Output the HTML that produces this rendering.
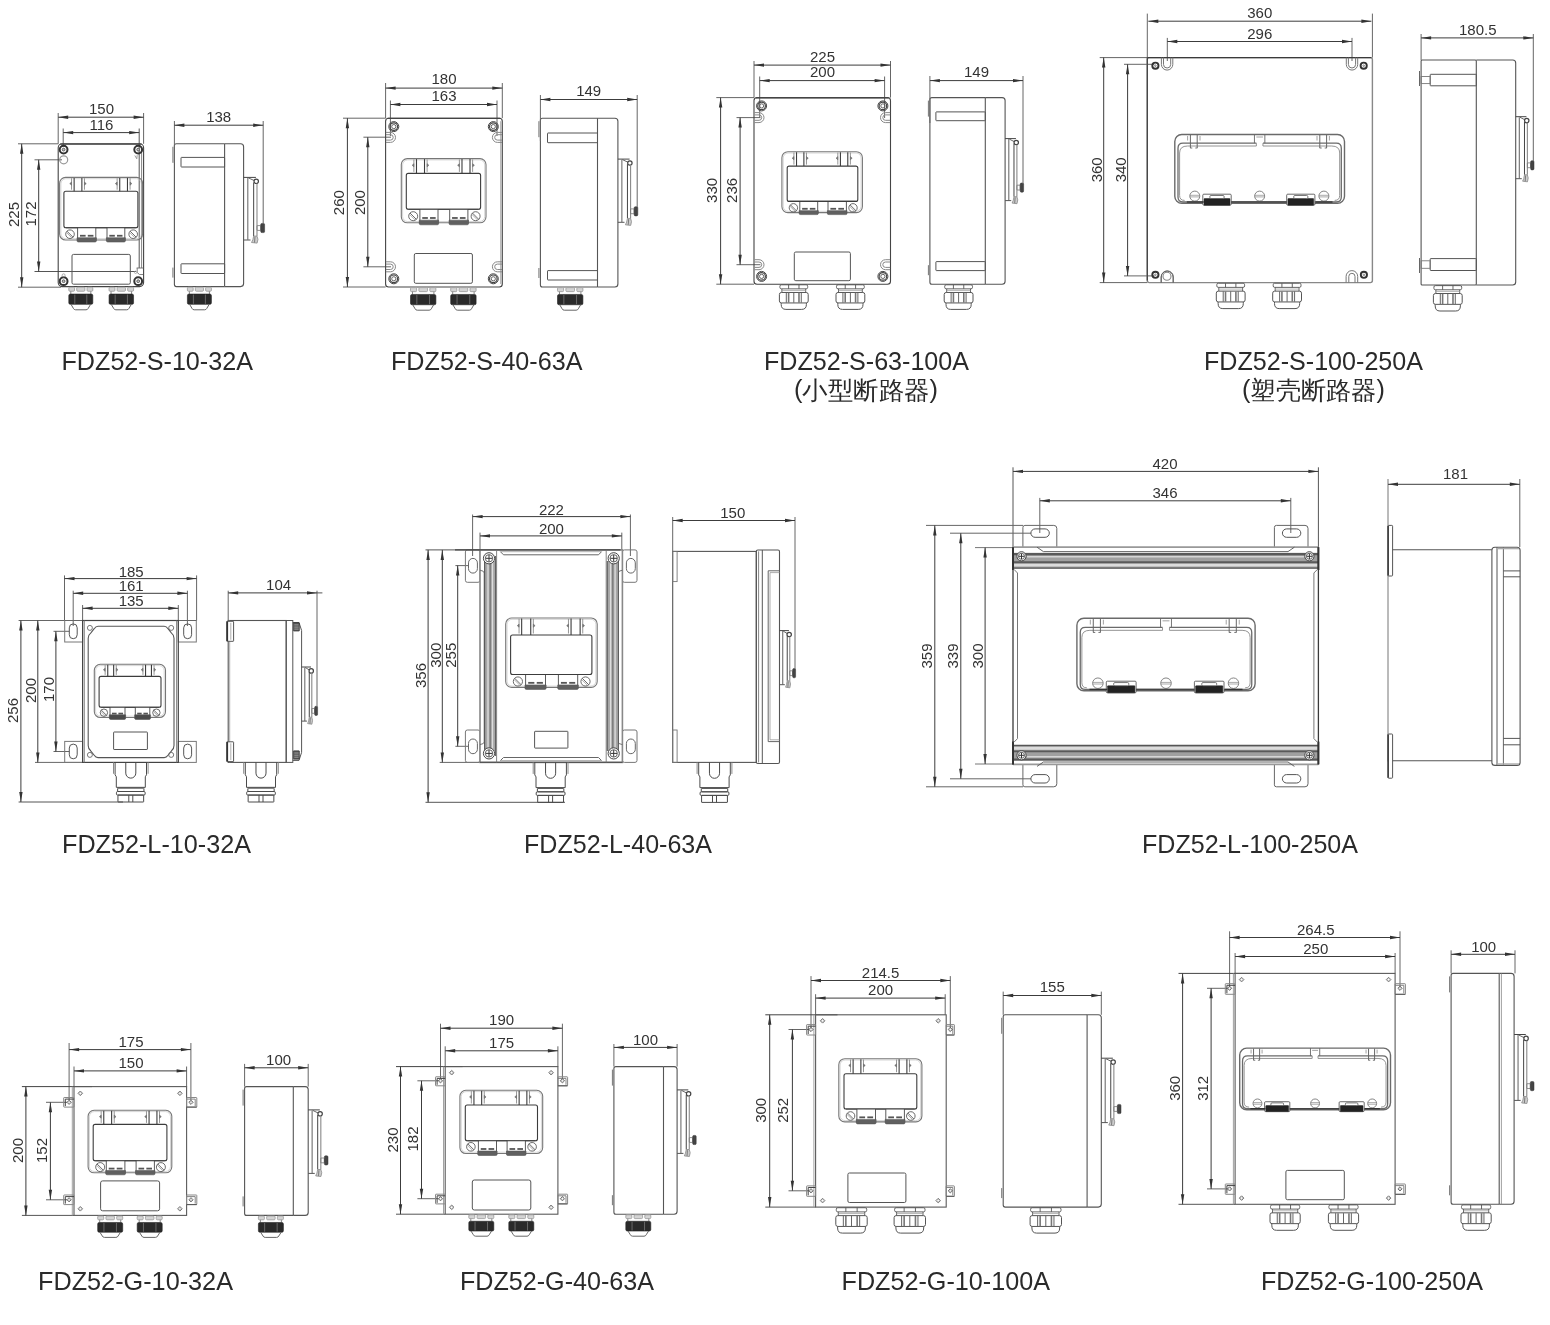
<!DOCTYPE html><html><head><meta charset="utf-8"><title>FDZ52 dimensions</title><style>html,body{margin:0;padding:0;background:#fff}svg{display:block}svg{will-change:transform;opacity:0.999}text{font-family:"Liberation Sans",sans-serif}</style></head><body><svg width="1550" height="1325" viewBox="0 0 1550 1325" fill="none"><rect width="1550" height="1325" fill="#fff"/>
<path d="M58.2 113L58.2 143.8" stroke="#666" stroke-width="1.0" />
<path d="M143.6 113L143.6 143.8" stroke="#666" stroke-width="1.0" />
<path d="M58.2 117.2L143.6 117.2" stroke="#3c3c3c" stroke-width="1.0" />
<path d="M58.2 117.2L68.2 115.5L68.2 118.9Z" fill="#333" stroke="none"/>
<path d="M143.6 117.2L133.6 118.9L133.6 115.5Z" fill="#333" stroke="none"/>
<text x="101.5" y="113.6" font-size="15" text-anchor="middle" fill="#333">150</text>
<path d="M63.2 128.5L63.2 147" stroke="#666" stroke-width="1.0" />
<path d="M139.2 128.5L139.2 268" stroke="#555" stroke-width="1.0" />
<path d="M63.2 132.6L139.2 132.6" stroke="#3c3c3c" stroke-width="1.0" />
<path d="M63.2 132.6L73.2 130.9L73.2 134.3Z" fill="#333" stroke="none"/>
<path d="M139.2 132.6L129.2 134.3L129.2 130.9Z" fill="#333" stroke="none"/>
<text x="101.5" y="129.6" font-size="15" text-anchor="middle" fill="#333">116</text>
<path d="M18 143.8L58.2 143.8" stroke="#666" stroke-width="1.0" />
<path d="M18 287.2L61.2 287.2" stroke="#666" stroke-width="1.0" />
<path d="M21.7 143.8L21.7 287.2" stroke="#3c3c3c" stroke-width="1.0" />
<path d="M21.7 143.8L23.4 153.8L20 153.8Z" fill="#333" stroke="none"/>
<path d="M21.7 287.2L20 277.2L23.4 277.2Z" fill="#333" stroke="none"/>
<text x="19.2" y="214.5" font-size="15" text-anchor="middle" fill="#333" transform="rotate(-90 19.2 214.5)">225</text>
<path d="M34.5 159.8L62 159.8" stroke="#666" stroke-width="1.0" />
<path d="M34.5 271.5L136 271.5" stroke="#555" stroke-width="1.0" />
<path d="M38.7 159.8L38.7 271.5" stroke="#3c3c3c" stroke-width="1.0" />
<path d="M38.7 159.8L40.4 169.8L37 169.8Z" fill="#333" stroke="none"/>
<path d="M38.7 271.5L37 261.5L40.4 261.5Z" fill="#333" stroke="none"/>
<text x="36.2" y="214" font-size="15" text-anchor="middle" fill="#333" transform="rotate(-90 36.2 214)">172</text>
<rect x="58.2" y="143.8" width="85.4" height="142.8" rx="4" stroke="#444" stroke-width="1.1" fill="none"/>
<path d="M60.2 144.1L141.6 144.1" stroke="#444" stroke-width="1.3" />
<path d="M141.6 150L141.6 268" stroke="#777" stroke-width="0.9" />
<circle cx="63.6" cy="149.6" r="3.9" stroke="#333" stroke-width="2.0" fill="none"/>
<circle cx="63.6" cy="149.6" r="1.4" stroke="#555" stroke-width="0.9" fill="#bbb"/>
<circle cx="138.2" cy="149.6" r="3.9" stroke="#333" stroke-width="2.0" fill="none"/>
<circle cx="138.2" cy="149.6" r="1.4" stroke="#555" stroke-width="0.9" fill="#bbb"/>
<circle cx="63.6" cy="281.2" r="3.9" stroke="#333" stroke-width="2.0" fill="none"/>
<circle cx="63.6" cy="281.2" r="1.4" stroke="#555" stroke-width="0.9" fill="#bbb"/>
<circle cx="138.2" cy="281.2" r="3.9" stroke="#333" stroke-width="2.0" fill="none"/>
<circle cx="138.2" cy="281.2" r="1.4" stroke="#555" stroke-width="0.9" fill="#bbb"/>
<circle cx="63.7" cy="159.8" r="4" stroke="#999" stroke-width="1.2" fill="none"/>
<path d="M134.8 155.5L136.8 158.8L137.2 155.2" stroke="#888" stroke-width="0.8" fill="none" stroke-linejoin="round" />
<circle cx="63.6" cy="275.3" r="1.5" stroke="#999" stroke-width="0.8" fill="none"/>
<path d="M136.6 268L143.3 268" stroke="#666" stroke-width="0.9" fill="none" stroke-linejoin="round" />
<path d="M137.2 268L137.2 272.5L139.5 274.5L143 274.5" stroke="#777" stroke-width="0.9" fill="none" stroke-linejoin="round" />
<circle cx="135.6" cy="272.3" r="1.2" stroke="#999" stroke-width="0.7" fill="none"/>
<rect x="59.6" y="177.4" width="83" height="62.6" rx="6" stroke="#777" stroke-width="1.1" fill="none"/>
<rect x="60.9" y="178.7" width="80.4" height="60" rx="5" stroke="#bbb" stroke-width="0.6" fill="none"/>
<rect x="63.9" y="191.2" width="74" height="36.6" rx="2" stroke="#3c3c3c" stroke-width="1.1" fill="none"/>
<path d="M71.53 178.2L71.53 189.7" stroke="#8a8a8a" stroke-width="0.9" />
<path d="M74.13 177.9L74.13 191.2" stroke="#3c3c3c" stroke-width="1.1" />
<path d="M71.53 182.01L69.73 183.61L71.53 185.21Z" stroke="#666" stroke-width="0.5" fill="#777" />
<path d="M84.47 178.2L84.47 189.7" stroke="#8a8a8a" stroke-width="0.9" />
<path d="M81.87 177.9L81.87 191.2" stroke="#3c3c3c" stroke-width="1.1" />
<path d="M84.47 182.01L86.27 183.61L84.47 185.21Z" stroke="#666" stroke-width="0.5" fill="#777" />
<path d="M117.13 178.2L117.13 189.7" stroke="#8a8a8a" stroke-width="0.9" />
<path d="M119.73 177.9L119.73 191.2" stroke="#3c3c3c" stroke-width="1.1" />
<path d="M117.13 182.01L115.33 183.61L117.13 185.21Z" stroke="#666" stroke-width="0.5" fill="#777" />
<path d="M130.07 178.2L130.07 189.7" stroke="#8a8a8a" stroke-width="0.9" />
<path d="M127.47 177.9L127.47 191.2" stroke="#3c3c3c" stroke-width="1.1" />
<path d="M130.07 182.01L131.87 183.61L130.07 185.21Z" stroke="#666" stroke-width="0.5" fill="#777" />
<circle cx="70" cy="234.2" r="4.3" stroke="#5a5a5a" stroke-width="0.9" fill="none"/>
<path d="M66.96 231.16L73.04 237.24" stroke="#5a5a5a" stroke-width="0.9" />
<path d="M66.28 232.32L71.88 237.92" stroke="#8a8a8a" stroke-width="0.7" />
<circle cx="133.2" cy="234.2" r="4.3" stroke="#5a5a5a" stroke-width="0.9" fill="none"/>
<path d="M130.16 231.16L136.24 237.24" stroke="#5a5a5a" stroke-width="0.9" />
<path d="M129.48 232.32L135.08 237.92" stroke="#8a8a8a" stroke-width="0.7" />
<rect x="77.6" y="227.8" width="18.2" height="14.2" rx="0" stroke="none" stroke-width="0" fill="#fff"/>
<path d="M77.6 227.8L77.6 241" stroke="#5a5a5a" stroke-width="1.0" />
<path d="M95.8 227.8L95.8 241" stroke="#5a5a5a" stroke-width="1.0" />
<path d="M77 237.74L96.4 237.74L96.4 240.8Q96.4 242 95 242L78.4 242Q77 242 77 240.8Z" stroke="#555" stroke-width="0.6" fill="#606060" />
<path d="M79.97 235.75L85.61 235.75" stroke="#555" stroke-width="1.8" />
<path d="M87.79 235.75L93.43 235.75" stroke="#555" stroke-width="1.8" />
<rect x="107" y="227.8" width="17.8" height="14.2" rx="0" stroke="none" stroke-width="0" fill="#fff"/>
<path d="M107 227.8L107 241" stroke="#5a5a5a" stroke-width="1.0" />
<path d="M124.8 227.8L124.8 241" stroke="#5a5a5a" stroke-width="1.0" />
<path d="M106.4 237.74L125.4 237.74L125.4 240.8Q125.4 242 124 242L107.8 242Q106.4 242 106.4 240.8Z" stroke="#555" stroke-width="0.6" fill="#606060" />
<path d="M109.31 235.75L114.83 235.75" stroke="#555" stroke-width="1.8" />
<path d="M116.97 235.75L122.49 235.75" stroke="#555" stroke-width="1.8" />
<path d="M65.9 227.8L135.9 227.8" stroke="#3c3c3c" stroke-width="1.1" />
<rect x="72" y="254.4" width="58.3" height="29.8" rx="1.5" stroke="#555" stroke-width="1.0" fill="none"/>
<rect x="68.8" y="287.21" width="5.76" height="4.03" rx="1" stroke="#999" stroke-width="0.8" fill="#d4d4d4"/>
<rect x="76.72" y="287.21" width="8.16" height="4.03" rx="1" stroke="#999" stroke-width="0.8" fill="#d4d4d4"/>
<rect x="87.04" y="287.21" width="5.76" height="4.03" rx="1" stroke="#999" stroke-width="0.8" fill="#d4d4d4"/>
<path d="M70.8 291.24L70.8 294.06" stroke="#8a8a8a" stroke-width="1.0" />
<path d="M90.8 291.24L90.8 294.06" stroke="#8a8a8a" stroke-width="1.0" />
<rect x="68.8" y="294.06" width="24" height="10.29" rx="1.5" stroke="#222" stroke-width="0.6" fill="#2a2a2a"/>
<path d="M74.8 294.56L74.8 303.85" stroke="#777" stroke-width="0.8" />
<path d="M86.8 294.56L86.8 303.85" stroke="#777" stroke-width="0.8" />
<path d="M71 304.35L73.4 308.4Q74 309.8 75.6 309.8L86 309.8Q87.6 309.8 88.2 308.4L90.6 304.35" stroke="#666" stroke-width="1" fill="none" />
<rect x="109.05" y="287.21" width="5.88" height="4.03" rx="1" stroke="#999" stroke-width="0.8" fill="#d4d4d4"/>
<rect x="117.13" y="287.21" width="8.33" height="4.03" rx="1" stroke="#999" stroke-width="0.8" fill="#d4d4d4"/>
<rect x="127.67" y="287.21" width="5.88" height="4.03" rx="1" stroke="#999" stroke-width="0.8" fill="#d4d4d4"/>
<path d="M111.05 291.24L111.05 294.06" stroke="#8a8a8a" stroke-width="1.0" />
<path d="M131.55 291.24L131.55 294.06" stroke="#8a8a8a" stroke-width="1.0" />
<rect x="109.05" y="294.06" width="24.5" height="10.29" rx="1.5" stroke="#222" stroke-width="0.6" fill="#2a2a2a"/>
<path d="M115.17 294.56L115.17 303.85" stroke="#777" stroke-width="0.8" />
<path d="M127.42 294.56L127.42 303.85" stroke="#777" stroke-width="0.8" />
<path d="M111.25 304.35L113.65 308.4Q114.25 309.8 115.85 309.8L126.75 309.8Q128.35 309.8 128.95 308.4L131.35 304.35" stroke="#666" stroke-width="1" fill="none" />
<path d="M224.6 143.8L176.4 143.8Q174.4 143.8 174.4 145.8L174.4 284.6Q174.4 286.6 176.4 286.6L224.6 286.6" stroke="#555" stroke-width="1.1" fill="none" />
<path d="M224.6 143.8L224.6 286.6" stroke="#555" stroke-width="1.1" />
<path d="M224.6 143.8L240.6 143.8Q243.6 143.8 243.6 146.8L243.6 283.6Q243.6 286.6 240.6 286.6L224.6 286.6" stroke="#555" stroke-width="1.1" fill="none" />
<rect x="181" y="157.4" width="43.6" height="9.6" rx="0.5" stroke="#555" stroke-width="1.0" fill="none"/>
<rect x="181" y="263.8" width="43.6" height="9.7" rx="0.5" stroke="#555" stroke-width="1.0" fill="none"/>
<path d="M172.9 146.8L172.9 162.8" stroke="#666" stroke-width="0.9" />
<path d="M172.9 267.6L172.9 277.6" stroke="#666" stroke-width="0.9" />
<path d="M243.6 177.4L255.92 177.4" stroke="#444" stroke-width="1.0" />
<path d="M247.78 177.9L247.78 239.8" stroke="#7a7a7a" stroke-width="1.2" />
<path d="M243.6 240L250.56 240" stroke="#555" stroke-width="1.0" />
<path d="M248.42 177.9L254.1 180.5" stroke="#555" stroke-width="0.9" />
<circle cx="256.24" cy="181.3" r="2.2" stroke="#444" stroke-width="1.2" fill="none"/>
<path d="M253.67 182.5L253.67 236.1" stroke="#444" stroke-width="1.0" />
<path d="M256.99 183.5L256.99 236.1" stroke="#888" stroke-width="1.1" />
<path d="M253.67 236.1L252.81 239.8L251.53 242.5L257.1 243.1L257.96 239.3L256.99 236.1Z" stroke="#888" stroke-width="0.8" fill="#ccc" stroke-linejoin="round" />
<path d="M254.96 236.8L254.53 242.5" stroke="#666" stroke-width="0.8" />
<rect x="256.99" y="225.6" width="3.75" height="4.8" rx="0.3" stroke="#777" stroke-width="0.8" fill="none"/>
<rect x="260.74" y="223.4" width="3.86" height="9.2" rx="1.2" stroke="#333" stroke-width="0.5" fill="#444"/>
<path d="M174.4 121L174.4 163" stroke="#666" stroke-width="1.0" />
<path d="M263.2 121L263.2 224" stroke="#666" stroke-width="1.0" />
<path d="M174.4 125.2L263.2 125.2" stroke="#3c3c3c" stroke-width="1.0" />
<path d="M174.4 125.2L184.4 123.5L184.4 126.9Z" fill="#333" stroke="none"/>
<path d="M263.2 125.2L253.2 126.9L253.2 123.5Z" fill="#333" stroke="none"/>
<text x="218.7" y="121.5" font-size="15" text-anchor="middle" fill="#333">138</text>
<rect x="187.4" y="287.21" width="5.76" height="4.03" rx="1" stroke="#999" stroke-width="0.8" fill="#d4d4d4"/>
<rect x="195.32" y="287.21" width="8.16" height="4.03" rx="1" stroke="#999" stroke-width="0.8" fill="#d4d4d4"/>
<rect x="205.64" y="287.21" width="5.76" height="4.03" rx="1" stroke="#999" stroke-width="0.8" fill="#d4d4d4"/>
<path d="M189.4 291.24L189.4 294.06" stroke="#8a8a8a" stroke-width="1.0" />
<path d="M209.4 291.24L209.4 294.06" stroke="#8a8a8a" stroke-width="1.0" />
<rect x="187.4" y="294.06" width="24" height="10.29" rx="1.5" stroke="#222" stroke-width="0.6" fill="#2a2a2a"/>
<path d="M193.4 294.56L193.4 303.85" stroke="#777" stroke-width="0.8" />
<path d="M205.4 294.56L205.4 303.85" stroke="#777" stroke-width="0.8" />
<path d="M189.6 304.35L192 308.4Q192.6 309.8 194.2 309.8L204.6 309.8Q206.2 309.8 206.8 308.4L209.2 304.35" stroke="#666" stroke-width="1" fill="none" />
<text x="61.5" y="370" font-size="25" text-anchor="start" fill="#2a2a2a" textLength="191.5" lengthAdjust="spacingAndGlyphs">FDZ52-S-10-32A</text>
<path d="M385.6 83L385.6 118.2" stroke="#666" stroke-width="1.0" />
<path d="M502.3 83L502.3 118.2" stroke="#666" stroke-width="1.0" />
<path d="M385.6 88.1L502.3 88.1" stroke="#3c3c3c" stroke-width="1.0" />
<path d="M385.6 88.1L395.6 86.4L395.6 89.8Z" fill="#333" stroke="none"/>
<path d="M502.3 88.1L492.3 89.8L492.3 86.4Z" fill="#333" stroke="none"/>
<text x="444" y="84.4" font-size="15" text-anchor="middle" fill="#333">180</text>
<path d="M390.4 100.5L390.4 136" stroke="#666" stroke-width="1.0" />
<path d="M497 100.5L497 136" stroke="#666" stroke-width="1.0" />
<path d="M390.4 104.5L497 104.5" stroke="#3c3c3c" stroke-width="1.0" />
<path d="M390.4 104.5L400.4 102.8L400.4 106.2Z" fill="#333" stroke="none"/>
<path d="M497 104.5L487 106.2L487 102.8Z" fill="#333" stroke="none"/>
<text x="444" y="101.3" font-size="15" text-anchor="middle" fill="#333">163</text>
<path d="M343 118.2L385.6 118.2" stroke="#666" stroke-width="1.0" />
<path d="M343 287L385.6 287" stroke="#666" stroke-width="1.0" />
<path d="M347.4 118.2L347.4 287" stroke="#3c3c3c" stroke-width="1.0" />
<path d="M347.4 118.2L349.1 128.2L345.7 128.2Z" fill="#333" stroke="none"/>
<path d="M347.4 287L345.7 277L349.1 277Z" fill="#333" stroke="none"/>
<text x="344.2" y="202.6" font-size="15" text-anchor="middle" fill="#333" transform="rotate(-90 344.2 202.6)">260</text>
<path d="M363.4 137.2L391 137.2" stroke="#666" stroke-width="1.0" />
<path d="M363.4 266.8L391 266.8" stroke="#666" stroke-width="1.0" />
<path d="M367.8 137.2L367.8 266.8" stroke="#3c3c3c" stroke-width="1.0" />
<path d="M367.8 137.2L369.5 147.2L366.1 147.2Z" fill="#333" stroke="none"/>
<path d="M367.8 266.8L366.1 256.8L369.5 256.8Z" fill="#333" stroke="none"/>
<text x="365.1" y="202.6" font-size="15" text-anchor="middle" fill="#333" transform="rotate(-90 365.1 202.6)">200</text>
<rect x="385.6" y="118.2" width="116.7" height="168.8" rx="3" stroke="#444" stroke-width="1.1" fill="none"/>
<path d="M387.6 118.4L500.3 118.4" stroke="#444" stroke-width="1.3" />
<path d="M500.8 121.2L500.8 284" stroke="#888" stroke-width="0.8" />
<circle cx="393.8" cy="126.6" r="5" stroke="#444" stroke-width="1.0" fill="none"/>
<circle cx="393.8" cy="126.6" r="3.8" stroke="#444" stroke-width="1.2" fill="none"/>
<circle cx="393.8" cy="126.6" r="2.1" stroke="#555" stroke-width="0.9" fill="none"/>
<circle cx="493.3" cy="126.6" r="5" stroke="#444" stroke-width="1.0" fill="none"/>
<circle cx="493.3" cy="126.6" r="3.8" stroke="#444" stroke-width="1.2" fill="none"/>
<circle cx="493.3" cy="126.6" r="2.1" stroke="#555" stroke-width="0.9" fill="none"/>
<circle cx="393.8" cy="278.8" r="5" stroke="#444" stroke-width="1.0" fill="none"/>
<circle cx="393.8" cy="278.8" r="3.8" stroke="#444" stroke-width="1.2" fill="none"/>
<circle cx="393.8" cy="278.8" r="2.1" stroke="#555" stroke-width="0.9" fill="none"/>
<circle cx="493.3" cy="278.8" r="5" stroke="#444" stroke-width="1.0" fill="none"/>
<circle cx="493.3" cy="278.8" r="3.8" stroke="#444" stroke-width="1.2" fill="none"/>
<circle cx="493.3" cy="278.8" r="2.1" stroke="#555" stroke-width="0.9" fill="none"/>
<path d="M385.9 132.4L390.5 132.4A5 5 0 0 1 390.5 142.4L385.9 142.4" stroke="#888" stroke-width="1.0" fill="none" />
<path d="M385.9 134.7L390.5 134.7A2.7 2.7 0 0 1 390.5 140.1L385.9 140.1" stroke="#888" stroke-width="1.0" fill="none" />
<path d="M502 132.4L497.4 132.4A5 5 0 0 0 497.4 142.4L502 142.4" stroke="#888" stroke-width="1.0" fill="none" />
<path d="M502 134.7L497.4 134.7A2.7 2.7 0 0 0 497.4 140.1L502 140.1" stroke="#888" stroke-width="1.0" fill="none" />
<path d="M385.9 261.8L390.5 261.8A5 5 0 0 1 390.5 271.8L385.9 271.8" stroke="#888" stroke-width="1.0" fill="none" />
<path d="M385.9 264.1L390.5 264.1A2.7 2.7 0 0 1 390.5 269.5L385.9 269.5" stroke="#888" stroke-width="1.0" fill="none" />
<path d="M502 261.8L497.4 261.8A5 5 0 0 0 497.4 271.8L502 271.8" stroke="#888" stroke-width="1.0" fill="none" />
<path d="M502 264.1L497.4 264.1A2.7 2.7 0 0 0 497.4 269.5L502 269.5" stroke="#888" stroke-width="1.0" fill="none" />
<rect x="401.3" y="158.6" width="84.7" height="64.2" rx="6" stroke="#777" stroke-width="1.1" fill="none"/>
<rect x="402.6" y="159.9" width="82.1" height="61.6" rx="5" stroke="#bbb" stroke-width="0.6" fill="none"/>
<rect x="406.3" y="173.4" width="74.3" height="35.9" rx="2" stroke="#3c3c3c" stroke-width="1.1" fill="none"/>
<path d="M413.89 159.4L413.89 171.9" stroke="#8a8a8a" stroke-width="0.9" />
<path d="M416.49 159.1L416.49 173.4" stroke="#3c3c3c" stroke-width="1.1" />
<path d="M413.89 163.66L412.09 165.26L413.89 166.86Z" stroke="#666" stroke-width="0.5" fill="#777" />
<path d="M427.11 159.4L427.11 171.9" stroke="#8a8a8a" stroke-width="0.9" />
<path d="M424.51 159.1L424.51 173.4" stroke="#3c3c3c" stroke-width="1.1" />
<path d="M427.11 163.66L428.91 165.26L427.11 166.86Z" stroke="#666" stroke-width="0.5" fill="#777" />
<path d="M459.39 159.4L459.39 171.9" stroke="#8a8a8a" stroke-width="0.9" />
<path d="M461.99 159.1L461.99 173.4" stroke="#3c3c3c" stroke-width="1.1" />
<path d="M459.39 163.66L457.59 165.26L459.39 166.86Z" stroke="#666" stroke-width="0.5" fill="#777" />
<path d="M472.61 159.4L472.61 171.9" stroke="#8a8a8a" stroke-width="0.9" />
<path d="M470.01 159.1L470.01 173.4" stroke="#3c3c3c" stroke-width="1.1" />
<path d="M472.61 163.66L474.41 165.26L472.61 166.86Z" stroke="#666" stroke-width="0.5" fill="#777" />
<circle cx="413.2" cy="216.2" r="4.5" stroke="#5a5a5a" stroke-width="0.9" fill="none"/>
<path d="M410.02 213.02L416.38 219.38" stroke="#5a5a5a" stroke-width="0.9" />
<path d="M409.35 214.19L415.21 220.05" stroke="#8a8a8a" stroke-width="0.7" />
<circle cx="475.6" cy="216.2" r="4.5" stroke="#5a5a5a" stroke-width="0.9" fill="none"/>
<path d="M472.42 213.02L478.78 219.38" stroke="#5a5a5a" stroke-width="0.9" />
<path d="M471.75 214.19L477.61 220.05" stroke="#8a8a8a" stroke-width="0.7" />
<rect x="419.9" y="209.3" width="18.1" height="15.5" rx="0" stroke="none" stroke-width="0" fill="#fff"/>
<path d="M419.9 209.3L419.9 223.8" stroke="#5a5a5a" stroke-width="1.0" />
<path d="M438 209.3L438 223.8" stroke="#5a5a5a" stroke-width="1.0" />
<path d="M419.3 220.15L438.6 220.15L438.6 223.6Q438.6 224.8 437.2 224.8L420.7 224.8Q419.3 224.8 419.3 223.6Z" stroke="#555" stroke-width="0.6" fill="#606060" />
<path d="M422.25 217.98L427.86 217.98" stroke="#555" stroke-width="1.8" />
<path d="M430.04 217.98L435.65 217.98" stroke="#555" stroke-width="1.8" />
<rect x="449.7" y="209.3" width="18.2" height="15.5" rx="0" stroke="none" stroke-width="0" fill="#fff"/>
<path d="M449.7 209.3L449.7 223.8" stroke="#5a5a5a" stroke-width="1.0" />
<path d="M467.9 209.3L467.9 223.8" stroke="#5a5a5a" stroke-width="1.0" />
<path d="M449.1 220.15L468.5 220.15L468.5 223.6Q468.5 224.8 467.1 224.8L450.5 224.8Q449.1 224.8 449.1 223.6Z" stroke="#555" stroke-width="0.6" fill="#606060" />
<path d="M452.07 217.98L457.71 217.98" stroke="#555" stroke-width="1.8" />
<path d="M459.89 217.98L465.53 217.98" stroke="#555" stroke-width="1.8" />
<path d="M408.3 209.3L478.6 209.3" stroke="#3c3c3c" stroke-width="1.1" />
<rect x="414.3" y="253.5" width="58.1" height="29.8" rx="1.5" stroke="#555" stroke-width="1.0" fill="none"/>
<rect x="410.5" y="287.61" width="6.1" height="4.03" rx="1" stroke="#999" stroke-width="0.8" fill="#d4d4d4"/>
<rect x="418.88" y="287.61" width="8.64" height="4.03" rx="1" stroke="#999" stroke-width="0.8" fill="#d4d4d4"/>
<rect x="429.8" y="287.61" width="6.1" height="4.03" rx="1" stroke="#999" stroke-width="0.8" fill="#d4d4d4"/>
<path d="M412.5 291.64L412.5 294.46" stroke="#8a8a8a" stroke-width="1.0" />
<path d="M433.9 291.64L433.9 294.46" stroke="#8a8a8a" stroke-width="1.0" />
<rect x="410.5" y="294.46" width="25.4" height="10.29" rx="1.5" stroke="#222" stroke-width="0.6" fill="#2a2a2a"/>
<path d="M416.85 294.96L416.85 304.25" stroke="#777" stroke-width="0.8" />
<path d="M429.55 294.96L429.55 304.25" stroke="#777" stroke-width="0.8" />
<path d="M412.7 304.75L415.1 308.8Q415.7 310.2 417.3 310.2L429.1 310.2Q430.7 310.2 431.3 308.8L433.7 304.75" stroke="#666" stroke-width="1" fill="none" />
<rect x="450.7" y="287.61" width="6.1" height="4.03" rx="1" stroke="#999" stroke-width="0.8" fill="#d4d4d4"/>
<rect x="459.08" y="287.61" width="8.64" height="4.03" rx="1" stroke="#999" stroke-width="0.8" fill="#d4d4d4"/>
<rect x="470" y="287.61" width="6.1" height="4.03" rx="1" stroke="#999" stroke-width="0.8" fill="#d4d4d4"/>
<path d="M452.7 291.64L452.7 294.46" stroke="#8a8a8a" stroke-width="1.0" />
<path d="M474.1 291.64L474.1 294.46" stroke="#8a8a8a" stroke-width="1.0" />
<rect x="450.7" y="294.46" width="25.4" height="10.29" rx="1.5" stroke="#222" stroke-width="0.6" fill="#2a2a2a"/>
<path d="M457.05 294.96L457.05 304.25" stroke="#777" stroke-width="0.8" />
<path d="M469.75 294.96L469.75 304.25" stroke="#777" stroke-width="0.8" />
<path d="M452.9 304.75L455.3 308.8Q455.9 310.2 457.5 310.2L469.3 310.2Q470.9 310.2 471.5 308.8L473.9 304.75" stroke="#666" stroke-width="1" fill="none" />
<path d="M597.5 118.2L542.4 118.2Q540.4 118.2 540.4 120.2L540.4 285Q540.4 287 542.4 287L597.5 287" stroke="#555" stroke-width="1.1" fill="none" />
<path d="M597.5 118.2L597.5 287" stroke="#555" stroke-width="1.1" />
<path d="M597.5 118.2L614.9 118.2Q617.9 118.2 617.9 121.2L617.9 284Q617.9 287 614.9 287L597.5 287" stroke="#555" stroke-width="1.1" fill="none" />
<rect x="547.5" y="133" width="50" height="9.7" rx="0.5" stroke="#555" stroke-width="1.0" fill="none"/>
<rect x="547.5" y="270.6" width="50" height="9.4" rx="0.5" stroke="#555" stroke-width="1.0" fill="none"/>
<path d="M538.9 121.2L538.9 137.2" stroke="#666" stroke-width="0.9" />
<path d="M538.9 268L538.9 278" stroke="#666" stroke-width="0.9" />
<path d="M617.9 159.1L629.58 159.1" stroke="#444" stroke-width="1.0" />
<path d="M621.86 159.6L621.86 222.1" stroke="#7a7a7a" stroke-width="1.2" />
<path d="M617.9 222.3L624.5 222.3" stroke="#555" stroke-width="1.0" />
<path d="M622.47 159.6L627.85 162.2" stroke="#555" stroke-width="0.9" />
<circle cx="629.88" cy="163" r="2.2" stroke="#444" stroke-width="1.2" fill="none"/>
<path d="M627.44 164.2L627.44 218.4" stroke="#444" stroke-width="1.0" />
<path d="M630.59 165.2L630.59 218.4" stroke="#888" stroke-width="1.1" />
<path d="M627.44 218.4L626.63 222.1L625.41 224.8L630.69 225.4L631.51 221.6L630.59 218.4Z" stroke="#888" stroke-width="0.8" fill="#ccc" stroke-linejoin="round" />
<path d="M628.66 219.1L628.26 224.8" stroke="#666" stroke-width="0.8" />
<rect x="630.59" y="208.9" width="3.55" height="4.8" rx="0.3" stroke="#777" stroke-width="0.8" fill="none"/>
<rect x="634.14" y="206.7" width="3.66" height="9.2" rx="1.2" stroke="#333" stroke-width="0.5" fill="#444"/>
<path d="M540.4 95L540.4 141" stroke="#666" stroke-width="1.0" />
<path d="M637.2 95L637.2 207" stroke="#666" stroke-width="1.0" />
<path d="M540.4 99.5L637.2 99.5" stroke="#3c3c3c" stroke-width="1.0" />
<path d="M540.4 99.5L550.4 97.8L550.4 101.2Z" fill="#333" stroke="none"/>
<path d="M637.2 99.5L627.2 101.2L627.2 97.8Z" fill="#333" stroke="none"/>
<text x="588.7" y="95.8" font-size="15" text-anchor="middle" fill="#333">149</text>
<rect x="557.5" y="287.61" width="6.1" height="4.03" rx="1" stroke="#999" stroke-width="0.8" fill="#d4d4d4"/>
<rect x="565.88" y="287.61" width="8.64" height="4.03" rx="1" stroke="#999" stroke-width="0.8" fill="#d4d4d4"/>
<rect x="576.8" y="287.61" width="6.1" height="4.03" rx="1" stroke="#999" stroke-width="0.8" fill="#d4d4d4"/>
<path d="M559.5 291.64L559.5 294.46" stroke="#8a8a8a" stroke-width="1.0" />
<path d="M580.9 291.64L580.9 294.46" stroke="#8a8a8a" stroke-width="1.0" />
<rect x="557.5" y="294.46" width="25.4" height="10.29" rx="1.5" stroke="#222" stroke-width="0.6" fill="#2a2a2a"/>
<path d="M563.85 294.96L563.85 304.25" stroke="#777" stroke-width="0.8" />
<path d="M576.55 294.96L576.55 304.25" stroke="#777" stroke-width="0.8" />
<path d="M559.7 304.75L562.1 308.8Q562.7 310.2 564.3 310.2L576.1 310.2Q577.7 310.2 578.3 308.8L580.7 304.75" stroke="#666" stroke-width="1" fill="none" />
<text x="391" y="370" font-size="25" text-anchor="start" fill="#2a2a2a" textLength="191.5" lengthAdjust="spacingAndGlyphs">FDZ52-S-40-63A</text>
<path d="M754 61L754 97.6" stroke="#666" stroke-width="1.0" />
<path d="M890.5 61L890.5 97.6" stroke="#666" stroke-width="1.0" />
<path d="M754 65.1L890.5 65.1" stroke="#3c3c3c" stroke-width="1.0" />
<path d="M754 65.1L764 63.4L764 66.8Z" fill="#333" stroke="none"/>
<path d="M890.5 65.1L880.5 66.8L880.5 63.4Z" fill="#333" stroke="none"/>
<text x="822.5" y="61.8" font-size="15" text-anchor="middle" fill="#333">225</text>
<path d="M759.7 76.5L759.7 118" stroke="#666" stroke-width="1.0" />
<path d="M884.6 76.5L884.6 118" stroke="#666" stroke-width="1.0" />
<path d="M759.7 80.6L884.6 80.6" stroke="#3c3c3c" stroke-width="1.0" />
<path d="M759.7 80.6L769.7 78.9L769.7 82.3Z" fill="#333" stroke="none"/>
<path d="M884.6 80.6L874.6 82.3L874.6 78.9Z" fill="#333" stroke="none"/>
<text x="822.5" y="77.4" font-size="15" text-anchor="middle" fill="#333">200</text>
<path d="M716.3 97.6L754 97.6" stroke="#666" stroke-width="1.0" />
<path d="M716.3 284.2L754 284.2" stroke="#666" stroke-width="1.0" />
<path d="M720.6 97.6L720.6 284.2" stroke="#3c3c3c" stroke-width="1.0" />
<path d="M720.6 97.6L722.3 107.6L718.9 107.6Z" fill="#333" stroke="none"/>
<path d="M720.6 284.2L718.9 274.2L722.3 274.2Z" fill="#333" stroke="none"/>
<text x="717.1" y="190.4" font-size="15" text-anchor="middle" fill="#333" transform="rotate(-90 717.1 190.4)">330</text>
<path d="M736.5 117.6L760.4 117.6" stroke="#666" stroke-width="1.0" />
<path d="M736.5 264.7L760.4 264.7" stroke="#666" stroke-width="1.0" />
<path d="M740.1 117.6L740.1 264.7" stroke="#3c3c3c" stroke-width="1.0" />
<path d="M740.1 117.6L741.8 127.6L738.4 127.6Z" fill="#333" stroke="none"/>
<path d="M740.1 264.7L738.4 254.7L741.8 254.7Z" fill="#333" stroke="none"/>
<text x="737.4" y="190.4" font-size="15" text-anchor="middle" fill="#333" transform="rotate(-90 737.4 190.4)">236</text>
<rect x="754" y="97.6" width="136.5" height="186.6" rx="3" stroke="#444" stroke-width="1.1" fill="none"/>
<path d="M756 97.8L888.5 97.8" stroke="#444" stroke-width="1.3" />
<circle cx="761.6" cy="105.9" r="5" stroke="#444" stroke-width="1.0" fill="none"/>
<circle cx="761.6" cy="105.9" r="3.8" stroke="#444" stroke-width="1.2" fill="none"/>
<circle cx="761.6" cy="105.9" r="2.1" stroke="#555" stroke-width="0.9" fill="none"/>
<circle cx="882.9" cy="105.9" r="5" stroke="#444" stroke-width="1.0" fill="none"/>
<circle cx="882.9" cy="105.9" r="3.8" stroke="#444" stroke-width="1.2" fill="none"/>
<circle cx="882.9" cy="105.9" r="2.1" stroke="#555" stroke-width="0.9" fill="none"/>
<circle cx="761.6" cy="276.4" r="5" stroke="#444" stroke-width="1.0" fill="none"/>
<circle cx="761.6" cy="276.4" r="3.8" stroke="#444" stroke-width="1.2" fill="none"/>
<circle cx="761.6" cy="276.4" r="2.1" stroke="#555" stroke-width="0.9" fill="none"/>
<circle cx="882.9" cy="276.4" r="5" stroke="#444" stroke-width="1.0" fill="none"/>
<circle cx="882.9" cy="276.4" r="3.8" stroke="#444" stroke-width="1.2" fill="none"/>
<circle cx="882.9" cy="276.4" r="2.1" stroke="#555" stroke-width="0.9" fill="none"/>
<path d="M754.4 112.6L759 112.6A5 5 0 0 1 759 122.6L754.4 122.6" stroke="#888" stroke-width="1.0" fill="none" />
<path d="M754.4 114.9L759 114.9A2.7 2.7 0 0 1 759 120.3L754.4 120.3" stroke="#888" stroke-width="1.0" fill="none" />
<path d="M890.1 112.6L885.5 112.6A5 5 0 0 0 885.5 122.6L890.1 122.6" stroke="#888" stroke-width="1.0" fill="none" />
<path d="M890.1 114.9L885.5 114.9A2.7 2.7 0 0 0 885.5 120.3L890.1 120.3" stroke="#888" stroke-width="1.0" fill="none" />
<path d="M754.4 259.7L759 259.7A5 5 0 0 1 759 269.7L754.4 269.7" stroke="#888" stroke-width="1.0" fill="none" />
<path d="M754.4 262L759 262A2.7 2.7 0 0 1 759 267.4L754.4 267.4" stroke="#888" stroke-width="1.0" fill="none" />
<path d="M890.1 259.7L885.5 259.7A5 5 0 0 0 885.5 269.7L890.1 269.7" stroke="#888" stroke-width="1.0" fill="none" />
<path d="M890.1 262L885.5 262A2.7 2.7 0 0 0 885.5 267.4L890.1 267.4" stroke="#888" stroke-width="1.0" fill="none" />
<rect x="781.9" y="151.7" width="80.5" height="60.9" rx="6" stroke="#777" stroke-width="1.1" fill="none"/>
<rect x="783.2" y="153" width="77.9" height="58.3" rx="5" stroke="#bbb" stroke-width="0.6" fill="none"/>
<rect x="787.2" y="166.1" width="70.6" height="35.3" rx="2" stroke="#3c3c3c" stroke-width="1.1" fill="none"/>
<path d="M793.92 152.5L793.92 164.6" stroke="#8a8a8a" stroke-width="0.9" />
<path d="M796.52 152.2L796.52 166.1" stroke="#3c3c3c" stroke-width="1.1" />
<path d="M793.92 156.58L792.12 158.18L793.92 159.78Z" stroke="#666" stroke-width="0.5" fill="#777" />
<path d="M806.48 152.5L806.48 164.6" stroke="#8a8a8a" stroke-width="0.9" />
<path d="M803.88 152.2L803.88 166.1" stroke="#3c3c3c" stroke-width="1.1" />
<path d="M806.48 156.58L808.28 158.18L806.48 159.78Z" stroke="#666" stroke-width="0.5" fill="#777" />
<path d="M837.82 152.5L837.82 164.6" stroke="#8a8a8a" stroke-width="0.9" />
<path d="M840.42 152.2L840.42 166.1" stroke="#3c3c3c" stroke-width="1.1" />
<path d="M837.82 156.58L836.02 158.18L837.82 159.78Z" stroke="#666" stroke-width="0.5" fill="#777" />
<path d="M850.38 152.5L850.38 164.6" stroke="#8a8a8a" stroke-width="0.9" />
<path d="M847.78 152.2L847.78 166.1" stroke="#3c3c3c" stroke-width="1.1" />
<path d="M850.38 156.58L852.18 158.18L850.38 159.78Z" stroke="#666" stroke-width="0.5" fill="#777" />
<circle cx="793.4" cy="207.8" r="4.2" stroke="#5a5a5a" stroke-width="0.9" fill="none"/>
<path d="M790.43 204.83L796.37 210.77" stroke="#5a5a5a" stroke-width="0.9" />
<path d="M789.75 205.99L795.21 211.45" stroke="#8a8a8a" stroke-width="0.7" />
<circle cx="853" cy="207.8" r="4.2" stroke="#5a5a5a" stroke-width="0.9" fill="none"/>
<path d="M850.03 204.83L855.97 210.77" stroke="#5a5a5a" stroke-width="0.9" />
<path d="M849.35 205.99L854.81 211.45" stroke="#8a8a8a" stroke-width="0.7" />
<rect x="799.8" y="201.4" width="17.9" height="13.2" rx="0" stroke="none" stroke-width="0" fill="#fff"/>
<path d="M799.8 201.4L799.8 213.6" stroke="#5a5a5a" stroke-width="1.0" />
<path d="M817.7 201.4L817.7 213.6" stroke="#5a5a5a" stroke-width="1.0" />
<path d="M799.2 210.64L818.3 210.64L818.3 213.4Q818.3 214.6 816.9 214.6L800.6 214.6Q799.2 214.6 799.2 213.4Z" stroke="#555" stroke-width="0.6" fill="#606060" />
<path d="M802.13 208.79L807.68 208.79" stroke="#555" stroke-width="1.8" />
<path d="M809.82 208.79L815.37 208.79" stroke="#555" stroke-width="1.8" />
<rect x="828" y="201.4" width="18.4" height="13.2" rx="0" stroke="none" stroke-width="0" fill="#fff"/>
<path d="M828 201.4L828 213.6" stroke="#5a5a5a" stroke-width="1.0" />
<path d="M846.4 201.4L846.4 213.6" stroke="#5a5a5a" stroke-width="1.0" />
<path d="M827.4 210.64L847 210.64L847 213.4Q847 214.6 845.6 214.6L828.8 214.6Q827.4 214.6 827.4 213.4Z" stroke="#555" stroke-width="0.6" fill="#606060" />
<path d="M830.39 208.79L836.1 208.79" stroke="#555" stroke-width="1.8" />
<path d="M838.3 208.79L844.01 208.79" stroke="#555" stroke-width="1.8" />
<path d="M789.2 201.4L855.8 201.4" stroke="#3c3c3c" stroke-width="1.1" />
<rect x="794.3" y="252" width="56.1" height="28.7" rx="1.5" stroke="#555" stroke-width="1.0" fill="none"/>
<rect x="779.9" y="284.8" width="27.8" height="4.03" rx="1.5" stroke="#555" stroke-width="0.9" fill="none"/>
<path d="M788.62 284.8L788.62 288.84" stroke="#555" stroke-width="0.9" />
<path d="M798.98 284.8L798.98 288.84" stroke="#555" stroke-width="0.9" />
<path d="M781.9 288.84L781.9 292.47" stroke="#555" stroke-width="0.9" />
<path d="M805.7 288.84L805.7 292.47" stroke="#555" stroke-width="0.9" />
<path d="M781.9 290.45L805.7 290.45" stroke="#999" stroke-width="0.7" />
<rect x="779.4" y="292.47" width="28.8" height="10.48" rx="2" stroke="#555" stroke-width="1" fill="none"/>
<path d="M786.31 292.77L786.31 302.65" stroke="#555" stroke-width="0.9" />
<path d="M788.62 292.77L788.62 302.65" stroke="#777" stroke-width="1.6" />
<path d="M793.8 292.77L793.8 302.65" stroke="#555" stroke-width="0.9" />
<path d="M798.98 292.77L798.98 302.65" stroke="#777" stroke-width="1.6" />
<path d="M801.29 292.77L801.29 302.65" stroke="#555" stroke-width="0.9" />
<path d="M781.2 302.95L781.2 304.46Q781.2 309.4 785.9 309.4L801.7 309.4Q806.4 309.4 806.4 304.46L806.4 302.95" stroke="#555" stroke-width="1" fill="none" />
<rect x="836.5" y="284.8" width="27.8" height="4.03" rx="1.5" stroke="#555" stroke-width="0.9" fill="none"/>
<path d="M845.22 284.8L845.22 288.84" stroke="#555" stroke-width="0.9" />
<path d="M855.58 284.8L855.58 288.84" stroke="#555" stroke-width="0.9" />
<path d="M838.5 288.84L838.5 292.47" stroke="#555" stroke-width="0.9" />
<path d="M862.3 288.84L862.3 292.47" stroke="#555" stroke-width="0.9" />
<path d="M838.5 290.45L862.3 290.45" stroke="#999" stroke-width="0.7" />
<rect x="836" y="292.47" width="28.8" height="10.48" rx="2" stroke="#555" stroke-width="1" fill="none"/>
<path d="M842.91 292.77L842.91 302.65" stroke="#555" stroke-width="0.9" />
<path d="M845.22 292.77L845.22 302.65" stroke="#777" stroke-width="1.6" />
<path d="M850.4 292.77L850.4 302.65" stroke="#555" stroke-width="0.9" />
<path d="M855.58 292.77L855.58 302.65" stroke="#777" stroke-width="1.6" />
<path d="M857.89 292.77L857.89 302.65" stroke="#555" stroke-width="0.9" />
<path d="M837.8 302.95L837.8 304.46Q837.8 309.4 842.5 309.4L858.3 309.4Q863 309.4 863 304.46L863 302.95" stroke="#555" stroke-width="1" fill="none" />
<path d="M985.3 97.6L931.9 97.6Q929.9 97.6 929.9 99.6L929.9 282.2Q929.9 284.2 931.9 284.2L985.3 284.2" stroke="#555" stroke-width="1.1" fill="none" />
<path d="M985.3 97.6L985.3 284.2" stroke="#555" stroke-width="1.1" />
<path d="M985.3 97.6L1002.1 97.6Q1005.1 97.6 1005.1 100.6L1005.1 281.2Q1005.1 284.2 1002.1 284.2L985.3 284.2" stroke="#555" stroke-width="1.1" fill="none" />
<rect x="935.9" y="111.9" width="49.4" height="8.8" rx="0.5" stroke="#555" stroke-width="1.0" fill="none"/>
<rect x="935.9" y="261.6" width="49.4" height="9" rx="0.5" stroke="#555" stroke-width="1.0" fill="none"/>
<path d="M928.4 100.6L928.4 116.6" stroke="#666" stroke-width="0.9" />
<path d="M928.4 265.2L928.4 275.2" stroke="#666" stroke-width="0.9" />
<path d="M1005.1 138.6L1015.95 138.6" stroke="#444" stroke-width="1.0" />
<path d="M1008.78 139.1L1008.78 200.4" stroke="#7a7a7a" stroke-width="1.2" />
<path d="M1005.1 200.6L1011.24 200.6" stroke="#555" stroke-width="1.0" />
<path d="M1009.35 139.1L1014.35 141.7" stroke="#555" stroke-width="0.9" />
<circle cx="1016.24" cy="142.5" r="2.2" stroke="#444" stroke-width="1.2" fill="none"/>
<path d="M1013.97 143.7L1013.97 196.7" stroke="#444" stroke-width="1.0" />
<path d="M1016.9 144.7L1016.9 196.7" stroke="#888" stroke-width="1.1" />
<path d="M1013.97 196.7L1013.22 200.4L1012.08 203.1L1016.99 203.7L1017.75 199.9L1016.9 196.7Z" stroke="#888" stroke-width="0.8" fill="#ccc" stroke-linejoin="round" />
<path d="M1015.11 197.4L1014.73 203.1" stroke="#666" stroke-width="0.8" />
<rect x="1016.9" y="185.2" width="3.3" height="4.8" rx="0.3" stroke="#777" stroke-width="0.8" fill="none"/>
<rect x="1020.2" y="183" width="3.4" height="9.2" rx="1.2" stroke="#333" stroke-width="0.5" fill="#444"/>
<path d="M929.9 76L929.9 123" stroke="#666" stroke-width="1.0" />
<path d="M1023 76L1023 184" stroke="#666" stroke-width="1.0" />
<path d="M929.9 80.6L1023 80.6" stroke="#3c3c3c" stroke-width="1.0" />
<path d="M929.9 80.6L939.9 78.9L939.9 82.3Z" fill="#333" stroke="none"/>
<path d="M1023 80.6L1013 82.3L1013 78.9Z" fill="#333" stroke="none"/>
<text x="976.5" y="77.2" font-size="15" text-anchor="middle" fill="#333">149</text>
<rect x="944.7" y="284.8" width="27.8" height="4.03" rx="1.5" stroke="#555" stroke-width="0.9" fill="none"/>
<path d="M953.42 284.8L953.42 288.84" stroke="#555" stroke-width="0.9" />
<path d="M963.78 284.8L963.78 288.84" stroke="#555" stroke-width="0.9" />
<path d="M946.7 288.84L946.7 292.47" stroke="#555" stroke-width="0.9" />
<path d="M970.5 288.84L970.5 292.47" stroke="#555" stroke-width="0.9" />
<path d="M946.7 290.45L970.5 290.45" stroke="#999" stroke-width="0.7" />
<rect x="944.2" y="292.47" width="28.8" height="10.48" rx="2" stroke="#555" stroke-width="1" fill="none"/>
<path d="M951.11 292.77L951.11 302.65" stroke="#555" stroke-width="0.9" />
<path d="M953.42 292.77L953.42 302.65" stroke="#777" stroke-width="1.6" />
<path d="M958.6 292.77L958.6 302.65" stroke="#555" stroke-width="0.9" />
<path d="M963.78 292.77L963.78 302.65" stroke="#777" stroke-width="1.6" />
<path d="M966.09 292.77L966.09 302.65" stroke="#555" stroke-width="0.9" />
<path d="M946 302.95L946 304.46Q946 309.4 950.7 309.4L966.5 309.4Q971.2 309.4 971.2 304.46L971.2 302.95" stroke="#555" stroke-width="1" fill="none" />
<text x="764" y="370" font-size="25" text-anchor="start" fill="#2a2a2a" textLength="205" lengthAdjust="spacingAndGlyphs">FDZ52-S-63-100A</text>
<text x="794" y="397.5" font-size="25.41" text-anchor="start" fill="#2a2a2a">(</text>
<text x="802.46" y="399.2" font-size="25.41" text-anchor="start" fill="#2a2a2a" font-family="&quot;Liberation Sans&quot;, &quot;Noto Sans CJK SC&quot;, sans-serif" textLength="127.08" lengthAdjust="spacingAndGlyphs">小型断路器</text>
<text x="929.54" y="397.5" font-size="25.41" text-anchor="start" fill="#2a2a2a">)</text>
<path d="M1147.3 13.6L1147.3 57.6" stroke="#666" stroke-width="1.0" />
<path d="M1372.4 13.6L1372.4 57.6" stroke="#666" stroke-width="1.0" />
<path d="M1148.3 21.2L1371.4 21.2" stroke="#3c3c3c" stroke-width="1.0" />
<path d="M1148.3 21.2L1158.3 19.5L1158.3 22.9Z" fill="#333" stroke="none"/>
<path d="M1371.4 21.2L1361.4 22.9L1361.4 19.5Z" fill="#333" stroke="none"/>
<text x="1259.8" y="18.3" font-size="15" text-anchor="middle" fill="#333">360</text>
<path d="M1167.3 37.9L1167.3 61" stroke="#666" stroke-width="1.0" />
<path d="M1352 37.9L1352 61" stroke="#666" stroke-width="1.0" />
<path d="M1167.3 41.5L1352 41.5" stroke="#3c3c3c" stroke-width="1.0" />
<path d="M1167.3 41.5L1177.3 39.8L1177.3 43.2Z" fill="#333" stroke="none"/>
<path d="M1352 41.5L1342 43.2L1342 39.8Z" fill="#333" stroke="none"/>
<text x="1259.8" y="38.9" font-size="15" text-anchor="middle" fill="#333">296</text>
<path d="M1099.7 57.6L1147.3 57.6" stroke="#666" stroke-width="1.0" />
<path d="M1099.7 282.6L1147.3 282.6" stroke="#666" stroke-width="1.0" />
<path d="M1103.7 57.6L1103.7 282.6" stroke="#3c3c3c" stroke-width="1.0" />
<path d="M1103.7 57.6L1105.4 67.6L1102 67.6Z" fill="#333" stroke="none"/>
<path d="M1103.7 282.6L1102 272.6L1105.4 272.6Z" fill="#333" stroke="none"/>
<text x="1101.9" y="169.8" font-size="15" text-anchor="middle" fill="#333" transform="rotate(-90 1101.9 169.8)">360</text>
<path d="M1124 64.3L1154.3 64.3" stroke="#666" stroke-width="1.0" />
<path d="M1124 275.9L1154.3 275.9" stroke="#666" stroke-width="1.0" />
<path d="M1127.6 64.3L1127.6 275.9" stroke="#3c3c3c" stroke-width="1.0" />
<path d="M1127.6 64.3L1129.3 74.3L1125.9 74.3Z" fill="#333" stroke="none"/>
<path d="M1127.6 275.9L1125.9 265.9L1129.3 265.9Z" fill="#333" stroke="none"/>
<text x="1125.8" y="169.8" font-size="15" text-anchor="middle" fill="#333" transform="rotate(-90 1125.8 169.8)">340</text>
<rect x="1147.3" y="57.6" width="225.1" height="225" rx="2" stroke="#888" stroke-width="1.4" fill="none"/>
<path d="M1147.3 57.6L1371.4 57.6" stroke="#3a3a3a" stroke-width="1.4" />
<path d="M1147.3 57.6L1147.3 280.6" stroke="#444" stroke-width="1.3" />
<circle cx="1155.4" cy="65.7" r="3.1" stroke="#333" stroke-width="1.9" fill="none"/>
<circle cx="1155.4" cy="65.7" r="0.8" stroke="#666" stroke-width="0.8" fill="none"/>
<circle cx="1363.7" cy="65.7" r="3.1" stroke="#333" stroke-width="1.9" fill="none"/>
<circle cx="1363.7" cy="65.7" r="0.8" stroke="#666" stroke-width="0.8" fill="none"/>
<circle cx="1155.4" cy="274.8" r="3.1" stroke="#333" stroke-width="1.9" fill="none"/>
<circle cx="1155.4" cy="274.8" r="0.8" stroke="#666" stroke-width="0.8" fill="none"/>
<circle cx="1363.9" cy="274.8" r="3.1" stroke="#333" stroke-width="1.9" fill="none"/>
<circle cx="1363.9" cy="274.8" r="0.8" stroke="#666" stroke-width="0.8" fill="none"/>
<path d="M1161.4 57.6L1161.4 64.4A5.7 5.7 0 0 0 1172.8 64.4L1172.8 57.6" stroke="#777" stroke-width="1.0" fill="none" />
<path d="M1163.5 57.6L1163.5 64.4A3.6 3.6 0 0 0 1170.7 64.4L1170.7 57.6" stroke="#777" stroke-width="1.0" fill="none" />
<path d="M1346.3 57.6L1346.3 64.4A5.7 5.7 0 0 0 1357.7 64.4L1357.7 57.6" stroke="#777" stroke-width="1.0" fill="none" />
<path d="M1348.4 57.6L1348.4 64.4A3.6 3.6 0 0 0 1355.6 64.4L1355.6 57.6" stroke="#777" stroke-width="1.0" fill="none" />
<path d="M1161.2 282.6L1161.2 277A6 6 0 0 1 1173.2 277L1173.2 282.6" stroke="#666" stroke-width="1.0" fill="none" />
<path d="M1161.2 282.6L1161.2 277A6 6 0 0 1 1173.2 277L1173.2 282.6" stroke="#666" stroke-width="1.0" fill="none" />
<circle cx="1167" cy="276.3" r="4" stroke="#888" stroke-width="1.1" fill="none"/>
<path d="M1346.1 282.6L1346.1 276.4A5.8 5.8 0 0 1 1357.7 276.4L1357.7 282.6" stroke="#777" stroke-width="1.0" fill="none" />
<path d="M1348.8 282.6L1348.8 276.4A3.1 3.1 0 0 1 1355 276.4L1355 282.6" stroke="#777" stroke-width="1.0" fill="none" />
<rect x="1174.8" y="134.5" width="169.7" height="68.7" rx="7" stroke="#6a6a6a" stroke-width="1.4" fill="none"/>
<path d="M1256.35 143.2L1183 143.2Q1178 143.2 1178 148.2L1178 197Q1178 202 1183 202L1336.3 202Q1341.3 202 1341.3 197L1341.3 148.2Q1341.3 143.2 1336.3 143.2L1262.95 143.2" stroke="#6a6a6a" stroke-width="1.3" fill="none" />
<path d="M1256.35 143.2L1256.35 146L1187.6 146Q1179.6 146 1179.6 153L1179.6 195.4Q1179.6 200.4 1184.6 200.4" stroke="#888" stroke-width="0.9" fill="none" />
<path d="M1262.95 143.2L1262.95 146L1331.7 146Q1339.7 146 1339.7 153L1339.7 195.4Q1339.7 200.4 1334.7 200.4" stroke="#888" stroke-width="0.9" fill="none" />
<path d="M1254.45 134.5L1254.45 143.2" stroke="#666" stroke-width="0.9" />
<path d="M1264.85 134.5L1264.85 143.2" stroke="#666" stroke-width="0.9" />
<path d="M1256.35 137L1262.95 137" stroke="#8a8a8a" stroke-width="0.8" />
<path d="M1190.4 135L1190.4 148" stroke="#666" stroke-width="1.0" />
<path d="M1197.2 135L1197.2 148" stroke="#666" stroke-width="1.0" />
<path d="M1187.6 136L1187.6 140.5" stroke="#8a8a8a" stroke-width="0.8" />
<path d="M1200 136L1200 140.5" stroke="#8a8a8a" stroke-width="0.8" />
<path d="M1190.2 148L1192.3 148" stroke="#666" stroke-width="0.9" />
<path d="M1197.4 148L1195.3 148" stroke="#666" stroke-width="0.9" />
<path d="M1319.8 135L1319.8 148" stroke="#666" stroke-width="1.0" />
<path d="M1326.6 135L1326.6 148" stroke="#666" stroke-width="1.0" />
<path d="M1317 136L1317 140.5" stroke="#8a8a8a" stroke-width="0.8" />
<path d="M1329.4 136L1329.4 140.5" stroke="#8a8a8a" stroke-width="0.8" />
<path d="M1319.6 148L1321.7 148" stroke="#666" stroke-width="0.9" />
<path d="M1326.8 148L1324.7 148" stroke="#666" stroke-width="0.9" />
<circle cx="1194.8" cy="196.1" r="5" stroke="#777" stroke-width="0.9" fill="none"/>
<path d="M1189.8 195.3L1199.8 195.3" stroke="#888" stroke-width="0.7" />
<path d="M1189.8 196.9L1199.8 196.9" stroke="#888" stroke-width="0.7" />
<circle cx="1259.65" cy="196.1" r="5" stroke="#777" stroke-width="0.9" fill="none"/>
<path d="M1254.65 195.3L1264.65 195.3" stroke="#888" stroke-width="0.7" />
<path d="M1254.65 196.9L1264.65 196.9" stroke="#888" stroke-width="0.7" />
<circle cx="1323.9" cy="196.1" r="5" stroke="#777" stroke-width="0.9" fill="none"/>
<path d="M1318.9 195.3L1328.9 195.3" stroke="#888" stroke-width="0.7" />
<path d="M1318.9 196.9L1328.9 196.9" stroke="#888" stroke-width="0.7" />
<rect x="1202.8" y="194.2" width="28.4" height="11" rx="1" stroke="#444" stroke-width="0.8" fill="#fff"/>
<rect x="1204" y="198.5" width="26" height="6.7" rx="0.5" stroke="#222" stroke-width="0.5" fill="#222"/>
<rect x="1209.8" y="195.5" width="14.4" height="3" rx="1.2" stroke="#555" stroke-width="0.8" fill="#fff"/>
<rect x="1286.7" y="194.2" width="28.2" height="11" rx="1" stroke="#444" stroke-width="0.8" fill="#fff"/>
<rect x="1287.9" y="198.5" width="25.8" height="6.7" rx="0.5" stroke="#222" stroke-width="0.5" fill="#222"/>
<rect x="1293.7" y="195.5" width="14.2" height="3" rx="1.2" stroke="#555" stroke-width="0.8" fill="#fff"/>
<path d="M1231.2 202L1286.7 202" stroke="#444" stroke-width="1.5" />
<path d="M1186.8 202L1203.8 202" stroke="#333" stroke-width="1.4" />
<path d="M1315.5 202L1332.5 202" stroke="#333" stroke-width="1.4" />
<rect x="1216.8" y="283.22" width="27.8" height="4.16" rx="1.5" stroke="#555" stroke-width="0.9" fill="none"/>
<path d="M1225.52 283.22L1225.52 287.38" stroke="#555" stroke-width="0.9" />
<path d="M1235.88 283.22L1235.88 287.38" stroke="#555" stroke-width="0.9" />
<path d="M1218.8 287.38L1218.8 291.13" stroke="#555" stroke-width="0.9" />
<path d="M1242.6 287.38L1242.6 291.13" stroke="#555" stroke-width="0.9" />
<path d="M1218.8 289.05L1242.6 289.05" stroke="#999" stroke-width="0.7" />
<rect x="1216.3" y="291.13" width="28.8" height="10.82" rx="2" stroke="#555" stroke-width="1" fill="none"/>
<path d="M1223.21 291.43L1223.21 301.64" stroke="#555" stroke-width="0.9" />
<path d="M1225.52 291.43L1225.52 301.64" stroke="#777" stroke-width="1.6" />
<path d="M1230.7 291.43L1230.7 301.64" stroke="#555" stroke-width="0.9" />
<path d="M1235.88 291.43L1235.88 301.64" stroke="#777" stroke-width="1.6" />
<path d="M1238.19 291.43L1238.19 301.64" stroke="#555" stroke-width="0.9" />
<path d="M1218.1 301.94L1218.1 303.5Q1218.1 308.6 1222.8 308.6L1238.6 308.6Q1243.3 308.6 1243.3 303.5L1243.3 301.94" stroke="#555" stroke-width="1" fill="none" />
<rect x="1273.2" y="283.22" width="27.8" height="4.16" rx="1.5" stroke="#555" stroke-width="0.9" fill="none"/>
<path d="M1281.92 283.22L1281.92 287.38" stroke="#555" stroke-width="0.9" />
<path d="M1292.28 283.22L1292.28 287.38" stroke="#555" stroke-width="0.9" />
<path d="M1275.2 287.38L1275.2 291.13" stroke="#555" stroke-width="0.9" />
<path d="M1299 287.38L1299 291.13" stroke="#555" stroke-width="0.9" />
<path d="M1275.2 289.05L1299 289.05" stroke="#999" stroke-width="0.7" />
<rect x="1272.7" y="291.13" width="28.8" height="10.82" rx="2" stroke="#555" stroke-width="1" fill="none"/>
<path d="M1279.61 291.43L1279.61 301.64" stroke="#555" stroke-width="0.9" />
<path d="M1281.92 291.43L1281.92 301.64" stroke="#777" stroke-width="1.6" />
<path d="M1287.1 291.43L1287.1 301.64" stroke="#555" stroke-width="0.9" />
<path d="M1292.28 291.43L1292.28 301.64" stroke="#777" stroke-width="1.6" />
<path d="M1294.59 291.43L1294.59 301.64" stroke="#555" stroke-width="0.9" />
<path d="M1274.5 301.94L1274.5 303.5Q1274.5 308.6 1279.2 308.6L1295 308.6Q1299.7 308.6 1299.7 303.5L1299.7 301.94" stroke="#555" stroke-width="1" fill="none" />
<rect x="1421.1" y="60" width="55.2" height="225" rx="1" stroke="#555" stroke-width="1.1" fill="none"/>
<path d="M1419.5 71L1419.5 86" stroke="#666" stroke-width="1.0" />
<path d="M1419.5 258L1419.5 273" stroke="#666" stroke-width="1.0" />
<path d="M1476.3 60L1512.7 60Q1515.7 60 1515.7 63L1515.7 282Q1515.7 285 1512.7 285L1476.3 285" stroke="#555" stroke-width="1.1" fill="none" />
<rect x="1430.2" y="74.3" width="46.1" height="11.5" rx="0.5" stroke="#555" stroke-width="1.0" fill="none"/>
<rect x="1421.1" y="76.5" width="9.1" height="7.1" rx="0" stroke="#777" stroke-width="0.9" fill="none"/>
<rect x="1430.2" y="258.6" width="46.1" height="11.9" rx="0.5" stroke="#555" stroke-width="1.0" fill="none"/>
<rect x="1421.1" y="260.8" width="9.1" height="7.5" rx="0" stroke="#777" stroke-width="0.9" fill="none"/>
<path d="M1515.7 116.7L1526.44 116.7" stroke="#444" stroke-width="1.0" />
<path d="M1519.34 117.2L1519.34 178.5" stroke="#7a7a7a" stroke-width="1.2" />
<path d="M1515.7 178.7L1521.77 178.7" stroke="#555" stroke-width="1.0" />
<path d="M1519.9 117.2L1524.85 119.8" stroke="#555" stroke-width="0.9" />
<circle cx="1526.72" cy="120.6" r="2.2" stroke="#444" stroke-width="1.2" fill="none"/>
<path d="M1524.48 121.8L1524.48 174.8" stroke="#444" stroke-width="1.0" />
<path d="M1527.37 122.8L1527.37 174.8" stroke="#888" stroke-width="1.1" />
<path d="M1524.48 174.8L1523.73 178.5L1522.61 181.2L1527.46 181.8L1528.21 178L1527.37 174.8Z" stroke="#888" stroke-width="0.8" fill="#ccc" stroke-linejoin="round" />
<path d="M1525.6 175.5L1525.22 181.2" stroke="#666" stroke-width="0.8" />
<rect x="1527.37" y="162.9" width="3.27" height="4.8" rx="0.3" stroke="#777" stroke-width="0.8" fill="none"/>
<rect x="1530.64" y="160.7" width="3.36" height="9.2" rx="1.2" stroke="#333" stroke-width="0.5" fill="#444"/>
<path d="M1421.1 34L1421.1 60" stroke="#666" stroke-width="1.0" />
<path d="M1533.3 34L1533.3 161" stroke="#666" stroke-width="1.0" />
<path d="M1421.1 37.9L1533.3 37.9" stroke="#3c3c3c" stroke-width="1.0" />
<path d="M1421.1 37.9L1431.1 36.2L1431.1 39.6Z" fill="#333" stroke="none"/>
<path d="M1533.3 37.9L1523.3 39.6L1523.3 36.2Z" fill="#333" stroke="none"/>
<text x="1477.8" y="35" font-size="15" text-anchor="middle" fill="#333">180.5</text>
<rect x="1433.9" y="285.62" width="27.8" height="4.16" rx="1.5" stroke="#555" stroke-width="0.9" fill="none"/>
<path d="M1442.62 285.62L1442.62 289.78" stroke="#555" stroke-width="0.9" />
<path d="M1452.98 285.62L1452.98 289.78" stroke="#555" stroke-width="0.9" />
<path d="M1435.9 289.78L1435.9 293.53" stroke="#555" stroke-width="0.9" />
<path d="M1459.7 289.78L1459.7 293.53" stroke="#555" stroke-width="0.9" />
<path d="M1435.9 291.45L1459.7 291.45" stroke="#999" stroke-width="0.7" />
<rect x="1433.4" y="293.53" width="28.8" height="10.82" rx="2" stroke="#555" stroke-width="1" fill="none"/>
<path d="M1440.31 293.83L1440.31 304.04" stroke="#555" stroke-width="0.9" />
<path d="M1442.62 293.83L1442.62 304.04" stroke="#777" stroke-width="1.6" />
<path d="M1447.8 293.83L1447.8 304.04" stroke="#555" stroke-width="0.9" />
<path d="M1452.98 293.83L1452.98 304.04" stroke="#777" stroke-width="1.6" />
<path d="M1455.29 293.83L1455.29 304.04" stroke="#555" stroke-width="0.9" />
<path d="M1435.2 304.34L1435.2 305.9Q1435.2 311 1439.9 311L1455.7 311Q1460.4 311 1460.4 305.9L1460.4 304.34" stroke="#555" stroke-width="1" fill="none" />
<text x="1204" y="370" font-size="25" text-anchor="start" fill="#2a2a2a" textLength="219" lengthAdjust="spacingAndGlyphs">FDZ52-S-100-250A</text>
<text x="1242" y="397.5" font-size="25.24" text-anchor="start" fill="#2a2a2a">(</text>
<text x="1250.4" y="399.2" font-size="25.24" text-anchor="start" fill="#2a2a2a" font-family="&quot;Liberation Sans&quot;, &quot;Noto Sans CJK SC&quot;, sans-serif" textLength="126.2" lengthAdjust="spacingAndGlyphs">塑壳断路器</text>
<text x="1376.6" y="397.5" font-size="25.24" text-anchor="start" fill="#2a2a2a">)</text>
<path d="M64.5 575.4L64.5 620.5" stroke="#666" stroke-width="1.0" />
<path d="M196.6 575.4L196.6 620.5" stroke="#666" stroke-width="1.0" />
<path d="M64.5 578.6L196.6 578.6" stroke="#3c3c3c" stroke-width="1.0" />
<path d="M64.5 578.6L74.5 576.9L74.5 580.3Z" fill="#333" stroke="none"/>
<path d="M196.6 578.6L186.6 580.3L186.6 576.9Z" fill="#333" stroke="none"/>
<text x="131.2" y="576.6" font-size="15" text-anchor="middle" fill="#333">185</text>
<path d="M73.2 590.7L73.2 626" stroke="#666" stroke-width="1.0" />
<path d="M187.4 590.7L187.4 626" stroke="#666" stroke-width="1.0" />
<path d="M73.2 593.3L187.4 593.3" stroke="#3c3c3c" stroke-width="1.0" />
<path d="M73.2 593.3L83.2 591.6L83.2 595Z" fill="#333" stroke="none"/>
<path d="M187.4 593.3L177.4 595L177.4 591.6Z" fill="#333" stroke="none"/>
<text x="131.2" y="591" font-size="15" text-anchor="middle" fill="#333">161</text>
<path d="M82.6 605L82.6 620.5" stroke="#666" stroke-width="1.0" />
<path d="M178.3 605L178.3 620.5" stroke="#666" stroke-width="1.0" />
<path d="M82.6 608.3L178.3 608.3" stroke="#3c3c3c" stroke-width="1.0" />
<path d="M82.6 608.3L92.6 606.6L92.6 610Z" fill="#333" stroke="none"/>
<path d="M178.3 608.3L168.3 610L168.3 606.6Z" fill="#333" stroke="none"/>
<text x="131.2" y="606" font-size="15" text-anchor="middle" fill="#333">135</text>
<path d="M18.6 620.5L64.5 620.5" stroke="#666" stroke-width="1.0" />
<path d="M18.6 802L123 802" stroke="#555" stroke-width="1.0" />
<path d="M20.9 620.5L20.9 802" stroke="#3c3c3c" stroke-width="1.0" />
<path d="M20.9 620.5L22.6 630.5L19.2 630.5Z" fill="#333" stroke="none"/>
<path d="M20.9 802L19.2 792L22.6 792Z" fill="#333" stroke="none"/>
<text x="18.4" y="710.5" font-size="15" text-anchor="middle" fill="#333" transform="rotate(-90 18.4 710.5)">256</text>
<path d="M35 762.4L82.6 762.4" stroke="#666" stroke-width="1.0" />
<path d="M37.8 620.5L37.8 762.4" stroke="#3c3c3c" stroke-width="1.0" />
<path d="M37.8 620.5L39.5 630.5L36.1 630.5Z" fill="#333" stroke="none"/>
<path d="M37.8 762.4L36.1 752.4L39.5 752.4Z" fill="#333" stroke="none"/>
<text x="35.6" y="690.5" font-size="15" text-anchor="middle" fill="#333" transform="rotate(-90 35.6 690.5)">200</text>
<path d="M53.5 631.3L69.3 631.3" stroke="#666" stroke-width="1.0" />
<path d="M53.5 751.5L69.3 751.5" stroke="#666" stroke-width="1.0" />
<path d="M55.9 631.3L55.9 751.5" stroke="#3c3c3c" stroke-width="1.0" />
<path d="M55.9 631.3L57.6 641.3L54.2 641.3Z" fill="#333" stroke="none"/>
<path d="M55.9 751.5L54.2 741.5L57.6 741.5Z" fill="#333" stroke="none"/>
<text x="53.7" y="689.5" font-size="15" text-anchor="middle" fill="#333" transform="rotate(-90 53.7 689.5)">170</text>
<rect x="64.7" y="620.5" width="17.9" height="21.5" rx="0" stroke="#777" stroke-width="1.0" fill="none"/>
<rect x="64.7" y="741.4" width="17.9" height="21" rx="0" stroke="#777" stroke-width="1.0" fill="none"/>
<rect x="178.3" y="620.5" width="18" height="21.5" rx="0" stroke="#777" stroke-width="1.0" fill="none"/>
<rect x="178.3" y="741.4" width="18" height="21" rx="0" stroke="#777" stroke-width="1.0" fill="none"/>
<rect x="69.3" y="623.9" width="7.9" height="14.8" rx="3.95" stroke="#555" stroke-width="1.0" fill="none"/>
<rect x="69.3" y="744.1" width="7.9" height="14.7" rx="3.95" stroke="#555" stroke-width="1.0" fill="none"/>
<rect x="183.7" y="623.9" width="7.9" height="14.8" rx="3.95" stroke="#555" stroke-width="1.0" fill="none"/>
<rect x="183.7" y="744.1" width="7.9" height="14.7" rx="3.95" stroke="#555" stroke-width="1.0" fill="none"/>
<path d="M64.7 620.5L196.3 620.5" stroke="#666" stroke-width="1.0" />
<rect x="82.6" y="620.5" width="95.7" height="141.9" rx="0" stroke="#444" stroke-width="1.2" fill="none"/>
<path d="M84.3 620.5L84.3 762.4" stroke="#777" stroke-width="0.9" />
<path d="M176.6 620.5L176.6 762.4" stroke="#777" stroke-width="0.9" />
<path d="M88.2 691.95L88.2 638.3Q88.2 634.8 90.7 633.1L94.2 628.7Q95.8 626.3 98 626.3L164.2 626.3Q166.4 626.3 168 628.7L171.5 633.1Q174 634.8 174 638.3L174 745.6Q174 749.1 171.5 750.8L168 755.2Q166.4 757.6 164.2 757.6L98 757.6Q95.8 757.6 94.2 755.2L90.7 750.8Q88.2 749.1 88.2 745.6Z" stroke="#555" stroke-width="1.1" fill="none" />
<circle cx="89.9" cy="627.9" r="2.5" stroke="#666" stroke-width="0.9" fill="none"/>
<circle cx="171.2" cy="627.9" r="2.5" stroke="#666" stroke-width="0.9" fill="none"/>
<circle cx="89.9" cy="754.9" r="2.5" stroke="#666" stroke-width="0.9" fill="none"/>
<circle cx="171.2" cy="754.9" r="2.5" stroke="#666" stroke-width="0.9" fill="none"/>
<rect x="94.3" y="664.3" width="71.2" height="53.2" rx="6" stroke="#777" stroke-width="1.1" fill="none"/>
<rect x="95.6" y="665.6" width="68.6" height="50.6" rx="5" stroke="#bbb" stroke-width="0.6" fill="none"/>
<rect x="99.1" y="676.4" width="61.9" height="30.8" rx="2" stroke="#3c3c3c" stroke-width="1.1" fill="none"/>
<path d="M105.15 665.1L105.15 674.9" stroke="#8a8a8a" stroke-width="0.9" />
<path d="M107.75 664.8L107.75 676.4" stroke="#3c3c3c" stroke-width="1.1" />
<path d="M105.15 668.14L103.35 669.75L105.15 671.35Z" stroke="#666" stroke-width="0.5" fill="#777" />
<path d="M116.25 665.1L116.25 674.9" stroke="#8a8a8a" stroke-width="0.9" />
<path d="M113.65 664.8L113.65 676.4" stroke="#3c3c3c" stroke-width="1.1" />
<path d="M116.25 668.14L118.05 669.75L116.25 671.35Z" stroke="#666" stroke-width="0.5" fill="#777" />
<path d="M142.95 665.1L142.95 674.9" stroke="#8a8a8a" stroke-width="0.9" />
<path d="M145.55 664.8L145.55 676.4" stroke="#3c3c3c" stroke-width="1.1" />
<path d="M142.95 668.14L141.15 669.75L142.95 671.35Z" stroke="#666" stroke-width="0.5" fill="#777" />
<path d="M154.05 665.1L154.05 674.9" stroke="#8a8a8a" stroke-width="0.9" />
<path d="M151.45 664.8L151.45 676.4" stroke="#3c3c3c" stroke-width="1.1" />
<path d="M154.05 668.14L155.85 669.75L154.05 671.35Z" stroke="#666" stroke-width="0.5" fill="#777" />
<circle cx="103.9" cy="712.7" r="3.7" stroke="#5a5a5a" stroke-width="0.9" fill="none"/>
<path d="M101.28 710.08L106.52 715.32" stroke="#5a5a5a" stroke-width="0.9" />
<path d="M100.57 711.21L105.39 716.03" stroke="#8a8a8a" stroke-width="0.7" />
<circle cx="156.4" cy="712.7" r="3.7" stroke="#5a5a5a" stroke-width="0.9" fill="none"/>
<path d="M153.78 710.08L159.02 715.32" stroke="#5a5a5a" stroke-width="0.9" />
<path d="M153.07 711.21L157.89 716.03" stroke="#8a8a8a" stroke-width="0.7" />
<rect x="110" y="707.2" width="15" height="12.3" rx="0" stroke="none" stroke-width="0" fill="#fff"/>
<path d="M110 707.2L110 718.5" stroke="#5a5a5a" stroke-width="1.0" />
<path d="M125 707.2L125 718.5" stroke="#5a5a5a" stroke-width="1.0" />
<path d="M109.4 714.83L125.6 714.83L125.6 718.3Q125.6 719.5 124.2 719.5L110.8 719.5Q109.4 719.5 109.4 718.3Z" stroke="#555" stroke-width="0.6" fill="#4a4a4a" />
<path d="M111.95 713.6L116.6 713.6" stroke="#555" stroke-width="1.8" />
<path d="M118.4 713.6L123.05 713.6" stroke="#555" stroke-width="1.8" />
<rect x="135.3" y="707.2" width="14.5" height="12.3" rx="0" stroke="none" stroke-width="0" fill="#fff"/>
<path d="M135.3 707.2L135.3 718.5" stroke="#5a5a5a" stroke-width="1.0" />
<path d="M149.8 707.2L149.8 718.5" stroke="#5a5a5a" stroke-width="1.0" />
<path d="M134.7 714.83L150.4 714.83L150.4 718.3Q150.4 719.5 149 719.5L136.1 719.5Q134.7 719.5 134.7 718.3Z" stroke="#555" stroke-width="0.6" fill="#4a4a4a" />
<path d="M137.19 713.6L141.68 713.6" stroke="#555" stroke-width="1.8" />
<path d="M143.42 713.6L147.92 713.6" stroke="#555" stroke-width="1.8" />
<path d="M101.1 707.2L159 707.2" stroke="#3c3c3c" stroke-width="1.1" />
<rect x="113.6" y="732" width="33.8" height="17.5" rx="0.5" stroke="#555" stroke-width="1.0" fill="none"/>
<path d="M113.5 762.4L113.5 773.77" stroke="#8a8a8a" stroke-width="1.0" />
<path d="M148.1 762.4L148.1 773.77" stroke="#8a8a8a" stroke-width="1.0" />
<path d="M115.1 762.4L115.1 774.77" stroke="#4a4a4a" stroke-width="1.0" />
<path d="M146.5 762.4L146.5 774.77" stroke="#4a4a4a" stroke-width="1.0" />
<path d="M115.1 774.77L116.3 776.77L116.3 787.35" stroke="#4a4a4a" stroke-width="1.0" fill="none" stroke-linejoin="round" />
<path d="M146.5 774.77L145.3 776.77L145.3 787.35" stroke="#4a4a4a" stroke-width="1.0" fill="none" stroke-linejoin="round" />
<path d="M125.78 762.4L125.78 773.12A5.02 5.02 0 0 0 135.82 773.12L135.82 762.4" stroke="#4a4a4a" stroke-width="1.0" fill="none" />
<path d="M116.3 787.35L145.3 787.35" stroke="#4a4a4a" stroke-width="1.0" />
<rect x="117.65" y="788.15" width="26.3" height="3.36" rx="0.5" stroke="#4a4a4a" stroke-width="1.0" fill="none"/>
<rect x="116.45" y="791.51" width="28.7" height="3.56" rx="1.2" stroke="#4a4a4a" stroke-width="1.0" fill="none"/>
<rect x="117.95" y="795.07" width="25.7" height="6.93" rx="0.3" stroke="#4a4a4a" stroke-width="1.0" fill="none"/>
<path d="M128.8 795.07L128.8 802" stroke="#4a4a4a" stroke-width="1.0" />
<path d="M132.8 795.07L132.8 802" stroke="#4a4a4a" stroke-width="1.0" />
<rect x="228.2" y="620.5" width="58" height="141.9" rx="0" stroke="#555" stroke-width="1.1" fill="none"/>
<path d="M229.7 620.5L229.7 762.4" stroke="#999" stroke-width="0.8" />
<rect x="286.2" y="620.5" width="6.6" height="141.9" rx="0" stroke="#555" stroke-width="1.0" fill="none"/>
<path d="M292.8 622.5L299 622.5L301.6 630.5L301.6 752.4L299 760.4L292.8 760.4" stroke="#555" stroke-width="1.0" fill="none" />
<rect x="293.4" y="622.7" width="6" height="8.4" rx="0.5" stroke="#333" stroke-width="0.6" fill="#555"/>
<path d="M294.3 624.9L298.6 624.9" stroke="#bbb" stroke-width="0.7" />
<path d="M294.3 627.1L298.6 627.1" stroke="#bbb" stroke-width="0.7" />
<path d="M294.3 629.1L298.6 629.1" stroke="#bbb" stroke-width="0.7" />
<rect x="293.4" y="750.8" width="6" height="8.4" rx="0.5" stroke="#333" stroke-width="0.6" fill="#555"/>
<path d="M294.3 753L298.6 753" stroke="#bbb" stroke-width="0.7" />
<path d="M294.3 755.2L298.6 755.2" stroke="#bbb" stroke-width="0.7" />
<path d="M294.3 757.2L298.6 757.2" stroke="#bbb" stroke-width="0.7" />
<rect x="227" y="621.3" width="6.6" height="20" rx="0.5" stroke="#555" stroke-width="1.0" fill="#fff"/>
<path d="M227.2 621.3L227.2 641.3" stroke="#333" stroke-width="1.8" />
<path d="M230.8 622.8L230.8 639.8" stroke="#999" stroke-width="0.8" />
<rect x="227" y="741.8" width="6.6" height="19.8" rx="0.5" stroke="#555" stroke-width="1.0" fill="#fff"/>
<path d="M227.2 741.8L227.2 761.6" stroke="#333" stroke-width="1.8" />
<path d="M230.8 743.3L230.8 760.1" stroke="#999" stroke-width="0.8" />
<path d="M301.6 667L310.99 667" stroke="#444" stroke-width="1.0" />
<path d="M304.78 667.5L304.78 720.9" stroke="#7a7a7a" stroke-width="1.2" />
<path d="M301.6 721.1L306.91 721.1" stroke="#555" stroke-width="1.0" />
<path d="M305.27 667.5L309.6 670.1" stroke="#555" stroke-width="0.9" />
<circle cx="311.23" cy="670.9" r="2.2" stroke="#444" stroke-width="1.2" fill="none"/>
<path d="M309.27 672.1L309.27 717.2" stroke="#444" stroke-width="1.0" />
<path d="M311.8 673.1L311.8 717.2" stroke="#888" stroke-width="1.1" />
<path d="M309.27 717.2L308.62 720.9L307.64 723.6L311.89 724.2L312.54 720.4L311.8 717.2Z" stroke="#888" stroke-width="0.8" fill="#ccc" stroke-linejoin="round" />
<path d="M310.25 717.9L309.93 723.6" stroke="#666" stroke-width="0.8" />
<rect x="311.8" y="708.5" width="2.86" height="4.8" rx="0.3" stroke="#777" stroke-width="0.8" fill="none"/>
<rect x="314.66" y="706.3" width="2.94" height="9.2" rx="1.2" stroke="#333" stroke-width="0.5" fill="#444"/>
<path d="M228.2 590.7L228.2 620.5" stroke="#666" stroke-width="1.0" />
<path d="M317 590.7L317 707" stroke="#666" stroke-width="1.0" />
<path d="M228.2 592.9L317 592.9" stroke="#3c3c3c" stroke-width="1.0" />
<path d="M228.2 592.9L238.2 591.2L238.2 594.6Z" fill="#333" stroke="none"/>
<path d="M317 592.9L307 594.6L307 591.2Z" fill="#333" stroke="none"/>
<text x="278.6" y="589.8" font-size="15" text-anchor="middle" fill="#333">104</text>
<path d="M317 592.9L322.4 592.9" stroke="#555" stroke-width="1.0" />
<path d="M243.7 762.4L243.7 773.77" stroke="#8a8a8a" stroke-width="1.0" />
<path d="M278.3 762.4L278.3 773.77" stroke="#8a8a8a" stroke-width="1.0" />
<path d="M245.3 762.4L245.3 774.77" stroke="#4a4a4a" stroke-width="1.0" />
<path d="M276.7 762.4L276.7 774.77" stroke="#4a4a4a" stroke-width="1.0" />
<path d="M245.3 774.77L246.5 776.77L246.5 787.35" stroke="#4a4a4a" stroke-width="1.0" fill="none" stroke-linejoin="round" />
<path d="M276.7 774.77L275.5 776.77L275.5 787.35" stroke="#4a4a4a" stroke-width="1.0" fill="none" stroke-linejoin="round" />
<path d="M255.98 762.4L255.98 773.12A5.02 5.02 0 0 0 266.02 773.12L266.02 762.4" stroke="#4a4a4a" stroke-width="1.0" fill="none" />
<path d="M246.5 787.35L275.5 787.35" stroke="#4a4a4a" stroke-width="1.0" />
<rect x="247.85" y="788.15" width="26.3" height="3.36" rx="0.5" stroke="#4a4a4a" stroke-width="1.0" fill="none"/>
<rect x="246.65" y="791.51" width="28.7" height="3.56" rx="1.2" stroke="#4a4a4a" stroke-width="1.0" fill="none"/>
<rect x="248.15" y="795.07" width="25.7" height="6.93" rx="0.3" stroke="#4a4a4a" stroke-width="1.0" fill="none"/>
<path d="M259 795.07L259 802" stroke="#4a4a4a" stroke-width="1.0" />
<path d="M263 795.07L263 802" stroke="#4a4a4a" stroke-width="1.0" />
<text x="62" y="853" font-size="25" text-anchor="start" fill="#2a2a2a" textLength="189" lengthAdjust="spacingAndGlyphs">FDZ52-L-10-32A</text>
<path d="M472.6 514.5L472.6 556" stroke="#666" stroke-width="1.0" />
<path d="M630.4 514.5L630.4 556" stroke="#666" stroke-width="1.0" />
<path d="M472.6 516.6L630.4 516.6" stroke="#3c3c3c" stroke-width="1.0" />
<path d="M472.6 516.6L482.6 514.9L482.6 518.3Z" fill="#333" stroke="none"/>
<path d="M630.4 516.6L620.4 518.3L620.4 514.9Z" fill="#333" stroke="none"/>
<text x="551.4" y="515.4" font-size="15" text-anchor="middle" fill="#333">222</text>
<path d="M480 532.6L480 549.9" stroke="#666" stroke-width="1.0" />
<path d="M621.8 532.6L621.8 549.9" stroke="#666" stroke-width="1.0" />
<path d="M480 535.9L621.8 535.9" stroke="#3c3c3c" stroke-width="1.0" />
<path d="M480 535.9L490 534.2L490 537.6Z" fill="#333" stroke="none"/>
<path d="M621.8 535.9L611.8 537.6L611.8 534.2Z" fill="#333" stroke="none"/>
<text x="551.4" y="533.8" font-size="15" text-anchor="middle" fill="#333">200</text>
<path d="M425.5 549.9L480 549.9" stroke="#555" stroke-width="1.0" />
<path d="M425.5 802.3L565 802.3" stroke="#555" stroke-width="1.0" />
<path d="M428.1 549.9L428.1 802.3" stroke="#3c3c3c" stroke-width="1.0" />
<path d="M428.1 549.9L429.8 559.9L426.4 559.9Z" fill="#333" stroke="none"/>
<path d="M428.1 802.3L426.4 792.3L429.8 792.3Z" fill="#333" stroke="none"/>
<text x="426.4" y="675.5" font-size="15" text-anchor="middle" fill="#333" transform="rotate(-90 426.4 675.5)">356</text>
<path d="M439.7 762.4L480 762.4" stroke="#666" stroke-width="1.0" />
<path d="M442.3 549.9L442.3 762.4" stroke="#3c3c3c" stroke-width="1.0" />
<path d="M442.3 549.9L444 559.9L440.6 559.9Z" fill="#333" stroke="none"/>
<path d="M442.3 762.4L440.6 752.4L444 752.4Z" fill="#333" stroke="none"/>
<text x="440.6" y="655.2" font-size="15" text-anchor="middle" fill="#333" transform="rotate(-90 440.6 655.2)">300</text>
<path d="M455.4 565.6L468.5 565.6" stroke="#666" stroke-width="1.0" />
<path d="M455.4 746.3L468.5 746.3" stroke="#666" stroke-width="1.0" />
<path d="M457.7 565.6L457.7 746.3" stroke="#3c3c3c" stroke-width="1.0" />
<path d="M457.7 565.6L459.4 575.6L456 575.6Z" fill="#333" stroke="none"/>
<path d="M457.7 746.3L456 736.3L459.4 736.3Z" fill="#333" stroke="none"/>
<text x="456.2" y="655.2" font-size="15" text-anchor="middle" fill="#333" transform="rotate(-90 456.2 655.2)">255</text>
<rect x="465.4" y="549.9" width="14.6" height="32.4" rx="2" stroke="#777" stroke-width="1.0" fill="none"/>
<rect x="465.4" y="730" width="14.6" height="32.4" rx="2" stroke="#777" stroke-width="1.0" fill="none"/>
<rect x="622.4" y="549.9" width="14.6" height="32.4" rx="2" stroke="#777" stroke-width="1.0" fill="none"/>
<rect x="622.4" y="730" width="14.6" height="32.4" rx="2" stroke="#777" stroke-width="1.0" fill="none"/>
<rect x="468.5" y="558.4" width="8.9" height="14.7" rx="4.45" stroke="#666" stroke-width="1.0" fill="none"/>
<rect x="468.5" y="739" width="8.9" height="14.7" rx="4.45" stroke="#666" stroke-width="1.0" fill="none"/>
<rect x="626.4" y="558.4" width="8.9" height="14.7" rx="4.45" stroke="#666" stroke-width="1.0" fill="none"/>
<rect x="626.4" y="739" width="8.9" height="14.7" rx="4.45" stroke="#666" stroke-width="1.0" fill="none"/>
<rect x="480" y="549.9" width="142.4" height="212.5" rx="0" stroke="#888" stroke-width="1.6" fill="#fff"/>
<path d="M455 549.9L620.5 549.9" stroke="#444" stroke-width="1.3" />
<path d="M480 762.4L622.4 762.4" stroke="#555" stroke-width="1.1" />
<path d="M480 570.2L483.2 571.2L484.2 573L484.2 742" stroke="#666" stroke-width="0.9" fill="none" stroke-linejoin="round" />
<path d="M484.2 742L483.2 743.6L480 744.6" stroke="#666" stroke-width="0.9" fill="none" stroke-linejoin="round" />
<path d="M622.4 570.2L619.2 571.2L618.2 573L618.2 742" stroke="#666" stroke-width="0.9" fill="none" stroke-linejoin="round" />
<path d="M618.2 742L619.2 743.6L622.4 744.6" stroke="#666" stroke-width="0.9" fill="none" stroke-linejoin="round" />
<rect x="484.6" y="561" width="11" height="190" rx="0" stroke="none" stroke-width="0" fill="#a6a6a6"/>
<path d="M484.6 561L484.6 751" stroke="#555" stroke-width="1.1" />
<path d="M495.6 556L495.6 756" stroke="#555" stroke-width="1.0" />
<path d="M488 561L488 751" stroke="#ddd" stroke-width="1.3" />
<path d="M490.2 561L490.2 751" stroke="#666" stroke-width="0.9" />
<path d="M492.5 561L492.5 751" stroke="#ddd" stroke-width="1.3" />
<rect x="607.2" y="561" width="11.2" height="190" rx="0" stroke="none" stroke-width="0" fill="#a6a6a6"/>
<path d="M607.2 561L607.2 751" stroke="#555" stroke-width="1.1" />
<path d="M618.4 556L618.4 756" stroke="#555" stroke-width="1.0" />
<path d="M610.6 561L610.6 751" stroke="#ddd" stroke-width="1.3" />
<path d="M612.8 561L612.8 751" stroke="#666" stroke-width="0.9" />
<path d="M615.1 561L615.1 751" stroke="#ddd" stroke-width="1.3" />
<path d="M496.6 549.9L496.6 762.4" stroke="#777" stroke-width="0.9" />
<path d="M606.2 549.9L606.2 762.4" stroke="#777" stroke-width="0.9" />
<path d="M500.4 551.7L503.5 554.8L598.5 554.8L601.5 551.7" stroke="#666" stroke-width="1.0" fill="none" stroke-linejoin="round" />
<path d="M500.4 551.7L601.5 551.7" stroke="#999" stroke-width="0.8" />
<path d="M500.4 760.6L503.5 757.5L598.5 757.5L601.5 760.6" stroke="#666" stroke-width="1.0" fill="none" stroke-linejoin="round" />
<path d="M500.4 760.6L601.5 760.6" stroke="#999" stroke-width="0.8" />
<circle cx="489" cy="558.3" r="5.6" stroke="#444" stroke-width="1.0" fill="#fff"/>
<circle cx="489" cy="558.3" r="3.7" stroke="#555" stroke-width="0.9" fill="none"/>
<path d="M485.64 558.3L492.36 558.3" stroke="#333" stroke-width="1.0" />
<path d="M489 554.94L489 561.66" stroke="#333" stroke-width="1.0" />
<circle cx="613.7" cy="558.3" r="5.6" stroke="#444" stroke-width="1.0" fill="#fff"/>
<circle cx="613.7" cy="558.3" r="3.7" stroke="#555" stroke-width="0.9" fill="none"/>
<path d="M610.34 558.3L617.06 558.3" stroke="#333" stroke-width="1.0" />
<path d="M613.7 554.94L613.7 561.66" stroke="#333" stroke-width="1.0" />
<circle cx="489" cy="753.4" r="5.6" stroke="#444" stroke-width="1.0" fill="#fff"/>
<circle cx="489" cy="753.4" r="3.7" stroke="#555" stroke-width="0.9" fill="none"/>
<path d="M485.64 753.4L492.36 753.4" stroke="#333" stroke-width="1.0" />
<path d="M489 750.04L489 756.76" stroke="#333" stroke-width="1.0" />
<circle cx="613.7" cy="753.4" r="5.6" stroke="#444" stroke-width="1.0" fill="#fff"/>
<circle cx="613.7" cy="753.4" r="3.7" stroke="#555" stroke-width="0.9" fill="none"/>
<path d="M610.34 753.4L617.06 753.4" stroke="#333" stroke-width="1.0" />
<path d="M613.7 750.04L613.7 756.76" stroke="#333" stroke-width="1.0" />
<rect x="505.7" y="618" width="91.5" height="69.4" rx="6" stroke="#777" stroke-width="1.1" fill="none"/>
<rect x="507" y="619.3" width="88.9" height="66.8" rx="5" stroke="#bbb" stroke-width="0.6" fill="none"/>
<rect x="510.6" y="635" width="81.3" height="39.5" rx="2" stroke="#3c3c3c" stroke-width="1.1" fill="none"/>
<path d="M519.06 618.8L519.06 633.5" stroke="#8a8a8a" stroke-width="0.9" />
<path d="M521.66 618.5L521.66 635" stroke="#3c3c3c" stroke-width="1.1" />
<path d="M519.06 624.05L517.26 625.65L519.06 627.25Z" stroke="#666" stroke-width="0.5" fill="#777" />
<path d="M533.34 618.8L533.34 633.5" stroke="#8a8a8a" stroke-width="0.9" />
<path d="M530.74 618.5L530.74 635" stroke="#3c3c3c" stroke-width="1.1" />
<path d="M533.34 624.05L535.14 625.65L533.34 627.25Z" stroke="#666" stroke-width="0.5" fill="#777" />
<path d="M568.46 618.8L568.46 633.5" stroke="#8a8a8a" stroke-width="0.9" />
<path d="M571.06 618.5L571.06 635" stroke="#3c3c3c" stroke-width="1.1" />
<path d="M568.46 624.05L566.66 625.65L568.46 627.25Z" stroke="#666" stroke-width="0.5" fill="#777" />
<path d="M582.74 618.8L582.74 633.5" stroke="#8a8a8a" stroke-width="0.9" />
<path d="M580.14 618.5L580.14 635" stroke="#3c3c3c" stroke-width="1.1" />
<path d="M582.74 624.05L584.54 625.65L582.74 627.25Z" stroke="#666" stroke-width="0.5" fill="#777" />
<circle cx="517.9" cy="681.5" r="4.6" stroke="#5a5a5a" stroke-width="0.9" fill="none"/>
<path d="M514.65 678.25L521.15 684.75" stroke="#5a5a5a" stroke-width="0.9" />
<path d="M513.99 679.43L519.97 685.41" stroke="#8a8a8a" stroke-width="0.7" />
<circle cx="585.5" cy="681.5" r="4.6" stroke="#5a5a5a" stroke-width="0.9" fill="none"/>
<path d="M582.25 678.25L588.75 684.75" stroke="#5a5a5a" stroke-width="0.9" />
<path d="M581.59 679.43L587.57 685.41" stroke="#8a8a8a" stroke-width="0.7" />
<rect x="525.6" y="674.5" width="19.9" height="14.9" rx="0" stroke="none" stroke-width="0" fill="#fff"/>
<path d="M525.6 674.5L525.6 688.4" stroke="#5a5a5a" stroke-width="1.0" />
<path d="M545.5 674.5L545.5 688.4" stroke="#5a5a5a" stroke-width="1.0" />
<path d="M525 684.93L546.1 684.93L546.1 688.2Q546.1 689.4 544.7 689.4L526.4 689.4Q525 689.4 525 688.2Z" stroke="#555" stroke-width="0.6" fill="#606060" />
<path d="M528.19 682.84L534.36 682.84" stroke="#555" stroke-width="1.8" />
<path d="M536.74 682.84L542.91 682.84" stroke="#555" stroke-width="1.8" />
<rect x="558.4" y="674.5" width="19.3" height="14.9" rx="0" stroke="none" stroke-width="0" fill="#fff"/>
<path d="M558.4 674.5L558.4 688.4" stroke="#5a5a5a" stroke-width="1.0" />
<path d="M577.7 674.5L577.7 688.4" stroke="#5a5a5a" stroke-width="1.0" />
<path d="M557.8 684.93L578.3 684.93L578.3 688.2Q578.3 689.4 576.9 689.4L559.2 689.4Q557.8 689.4 557.8 688.2Z" stroke="#555" stroke-width="0.6" fill="#606060" />
<path d="M560.91 682.84L566.89 682.84" stroke="#555" stroke-width="1.8" />
<path d="M569.21 682.84L575.19 682.84" stroke="#555" stroke-width="1.8" />
<path d="M512.6 674.5L589.9 674.5" stroke="#3c3c3c" stroke-width="1.1" />
<rect x="534.6" y="731.3" width="33.3" height="16.8" rx="0.5" stroke="#555" stroke-width="1.0" fill="none"/>
<path d="M533.2 762.4L533.2 773.9" stroke="#8a8a8a" stroke-width="1.0" />
<path d="M568 762.4L568 773.9" stroke="#8a8a8a" stroke-width="1.0" />
<path d="M534.8 762.4L534.8 774.9" stroke="#4a4a4a" stroke-width="1.0" />
<path d="M566.4 762.4L566.4 774.9" stroke="#4a4a4a" stroke-width="1.0" />
<path d="M534.8 774.9L536 776.9L536 787.6" stroke="#4a4a4a" stroke-width="1.0" fill="none" stroke-linejoin="round" />
<path d="M566.4 774.9L565.2 776.9L565.2 787.6" stroke="#4a4a4a" stroke-width="1.0" fill="none" stroke-linejoin="round" />
<path d="M545.55 762.4L545.55 773.25A5.05 5.05 0 0 0 555.65 773.25L555.65 762.4" stroke="#4a4a4a" stroke-width="1.0" fill="none" />
<path d="M536 787.6L565.2 787.6" stroke="#4a4a4a" stroke-width="1.0" />
<rect x="537.38" y="788.4" width="26.45" height="3.4" rx="0.5" stroke="#4a4a4a" stroke-width="1.0" fill="none"/>
<rect x="536.18" y="791.8" width="28.85" height="3.6" rx="1.2" stroke="#4a4a4a" stroke-width="1.0" fill="none"/>
<rect x="537.68" y="795.4" width="25.85" height="7" rx="0.3" stroke="#4a4a4a" stroke-width="1.0" fill="none"/>
<path d="M548.6 795.4L548.6 802.4" stroke="#4a4a4a" stroke-width="1.0" />
<path d="M552.6 795.4L552.6 802.4" stroke="#4a4a4a" stroke-width="1.0" />
<rect x="672.7" y="551.4" width="83.6" height="211" rx="0" stroke="#555" stroke-width="1.1" fill="none"/>
<rect x="672.7" y="551.4" width="4.4" height="30.2" rx="0" stroke="#777" stroke-width="0.9" fill="none"/>
<rect x="672.7" y="730" width="4.4" height="32.4" rx="0" stroke="#777" stroke-width="0.9" fill="none"/>
<path d="M758.6 551.4L758.6 762.4" stroke="#777" stroke-width="0.9" />
<rect x="756.3" y="550" width="23.2" height="213.5" rx="1.5" stroke="#555" stroke-width="1.1" fill="none"/>
<path d="M762.3 550L762.3 763.5" stroke="#555" stroke-width="1.0" />
<path d="M779.5 570.8L768.2 570.8L768.2 741.6L779.5 741.6" stroke="#666" stroke-width="1.0" fill="none" />
<path d="M779.5 572.6L770.0 572.6L770.0 739.8L779.5 739.8" stroke="#999" stroke-width="0.8" fill="none" />
<path d="M779.5 630.6L788.95 630.6" stroke="#444" stroke-width="1.0" />
<path d="M782.7 631.1L782.7 684.5" stroke="#7a7a7a" stroke-width="1.2" />
<path d="M779.5 684.7L784.84 684.7" stroke="#555" stroke-width="1.0" />
<path d="M783.2 631.1L787.55 633.7" stroke="#555" stroke-width="0.9" />
<circle cx="789.19" cy="634.5" r="2.2" stroke="#444" stroke-width="1.2" fill="none"/>
<path d="M787.22 635.7L787.22 680.8" stroke="#444" stroke-width="1.0" />
<path d="M789.77 636.7L789.77 680.8" stroke="#888" stroke-width="1.1" />
<path d="M787.22 680.8L786.56 684.5L785.58 687.2L789.85 687.8L790.51 684L789.77 680.8Z" stroke="#888" stroke-width="0.8" fill="#ccc" stroke-linejoin="round" />
<path d="M788.21 681.5L787.88 687.2" stroke="#666" stroke-width="0.8" />
<rect x="789.77" y="670.8" width="2.88" height="4.8" rx="0.3" stroke="#777" stroke-width="0.8" fill="none"/>
<rect x="792.64" y="668.6" width="2.96" height="9.2" rx="1.2" stroke="#333" stroke-width="0.5" fill="#444"/>
<path d="M672.7 517L672.7 551.4" stroke="#666" stroke-width="1.0" />
<path d="M795 517L795 669" stroke="#666" stroke-width="1.0" />
<path d="M672.7 520.5L795 520.5" stroke="#3c3c3c" stroke-width="1.0" />
<path d="M672.7 520.5L682.7 518.8L682.7 522.2Z" fill="#333" stroke="none"/>
<path d="M795 520.5L785 522.2L785 518.8Z" fill="#333" stroke="none"/>
<text x="732.8" y="518.4" font-size="15" text-anchor="middle" fill="#333">150</text>
<path d="M697.1 762.4L697.1 773.9" stroke="#8a8a8a" stroke-width="1.0" />
<path d="M731.9 762.4L731.9 773.9" stroke="#8a8a8a" stroke-width="1.0" />
<path d="M698.7 762.4L698.7 774.9" stroke="#4a4a4a" stroke-width="1.0" />
<path d="M730.3 762.4L730.3 774.9" stroke="#4a4a4a" stroke-width="1.0" />
<path d="M698.7 774.9L699.9 776.9L699.9 787.6" stroke="#4a4a4a" stroke-width="1.0" fill="none" stroke-linejoin="round" />
<path d="M730.3 774.9L729.1 776.9L729.1 787.6" stroke="#4a4a4a" stroke-width="1.0" fill="none" stroke-linejoin="round" />
<path d="M709.45 762.4L709.45 773.25A5.05 5.05 0 0 0 719.55 773.25L719.55 762.4" stroke="#4a4a4a" stroke-width="1.0" fill="none" />
<path d="M699.9 787.6L729.1 787.6" stroke="#4a4a4a" stroke-width="1.0" />
<rect x="701.28" y="788.4" width="26.45" height="3.4" rx="0.5" stroke="#4a4a4a" stroke-width="1.0" fill="none"/>
<rect x="700.08" y="791.8" width="28.85" height="3.6" rx="1.2" stroke="#4a4a4a" stroke-width="1.0" fill="none"/>
<rect x="701.58" y="795.4" width="25.85" height="7" rx="0.3" stroke="#4a4a4a" stroke-width="1.0" fill="none"/>
<path d="M712.5 795.4L712.5 802.4" stroke="#4a4a4a" stroke-width="1.0" />
<path d="M716.5 795.4L716.5 802.4" stroke="#4a4a4a" stroke-width="1.0" />
<text x="524" y="853" font-size="25" text-anchor="start" fill="#2a2a2a" textLength="188" lengthAdjust="spacingAndGlyphs">FDZ52-L-40-63A</text>
<path d="M1013 467.3L1013 547.2" stroke="#555" stroke-width="1.0" />
<path d="M1318.4 467.3L1318.4 547.2" stroke="#555" stroke-width="1.0" />
<path d="M1013 471.4L1318.4 471.4" stroke="#3c3c3c" stroke-width="1.0" />
<path d="M1013 471.4L1023 469.7L1023 473.1Z" fill="#333" stroke="none"/>
<path d="M1318.4 471.4L1308.4 473.1L1308.4 469.7Z" fill="#333" stroke="none"/>
<text x="1165" y="468.6" font-size="15" text-anchor="middle" fill="#333">420</text>
<path d="M1039.8 497.9L1039.8 533" stroke="#666" stroke-width="1.0" />
<path d="M1290.8 497.9L1290.8 533" stroke="#666" stroke-width="1.0" />
<path d="M1039.8 500.8L1290.8 500.8" stroke="#3c3c3c" stroke-width="1.0" />
<path d="M1039.8 500.8L1049.8 499.1L1049.8 502.5Z" fill="#333" stroke="none"/>
<path d="M1290.8 500.8L1280.8 502.5L1280.8 499.1Z" fill="#333" stroke="none"/>
<text x="1165" y="498" font-size="15" text-anchor="middle" fill="#333">346</text>
<path d="M926 525.4L1023 525.4" stroke="#666" stroke-width="1.0" />
<path d="M926 786.8L1023 786.8" stroke="#666" stroke-width="1.0" />
<path d="M934.8 525.4L934.8 786.8" stroke="#3c3c3c" stroke-width="1.0" />
<path d="M934.8 525.4L936.5 535.4L933.1 535.4Z" fill="#333" stroke="none"/>
<path d="M934.8 786.8L933.1 776.8L936.5 776.8Z" fill="#333" stroke="none"/>
<text x="932.4" y="656" font-size="15" text-anchor="middle" fill="#333" transform="rotate(-90 932.4 656)">359</text>
<path d="M950 533.2L1031 533.2" stroke="#666" stroke-width="1.0" />
<path d="M950 778.8L1031 778.8" stroke="#666" stroke-width="1.0" />
<path d="M960.8 533.2L960.8 778.8" stroke="#3c3c3c" stroke-width="1.0" />
<path d="M960.8 533.2L962.5 543.2L959.1 543.2Z" fill="#333" stroke="none"/>
<path d="M960.8 778.8L959.1 768.8L962.5 768.8Z" fill="#333" stroke="none"/>
<text x="958.4" y="656" font-size="15" text-anchor="middle" fill="#333" transform="rotate(-90 958.4 656)">339</text>
<path d="M975 547.6L1013 547.6" stroke="#777" stroke-width="1.0" />
<path d="M975 764L1013 764" stroke="#777" stroke-width="1.0" />
<path d="M985.1 547.6L985.1 764" stroke="#3c3c3c" stroke-width="1.0" />
<path d="M985.1 547.6L986.8 557.6L983.4 557.6Z" fill="#333" stroke="none"/>
<path d="M985.1 764L983.4 754L986.8 754Z" fill="#333" stroke="none"/>
<text x="982.6" y="656" font-size="15" text-anchor="middle" fill="#333" transform="rotate(-90 982.6 656)">300</text>
<path d="M1022.9 547.2L1022.9 527.5Q1022.9 525.4 1024.9 525.4L1053.8 525.4Q1056.8 525.4 1056.8 528.4L1056.8 547.2" stroke="#666" stroke-width="1.0" fill="none" />
<path d="M1022.9 764.4L1022.9 784.8Q1022.9 786.8 1024.9 786.8L1053.8 786.8Q1056.8 786.8 1056.8 783.8L1056.8 764.4" stroke="#666" stroke-width="1.0" fill="none" />
<rect x="1030.9" y="528.9" width="18.4" height="8.4" rx="4.2" stroke="#555" stroke-width="1.0" fill="none"/>
<rect x="1030.9" y="774.6" width="18.4" height="8.4" rx="4.2" stroke="#555" stroke-width="1.0" fill="none"/>
<path d="M1274.4 547.2L1274.4 527.5Q1274.4 525.4 1276.4 525.4L1305 525.4Q1308 525.4 1308 528.4L1308 547.2" stroke="#666" stroke-width="1.0" fill="none" />
<path d="M1274.4 764.4L1274.4 784.8Q1274.4 786.8 1276.4 786.8L1305 786.8Q1308 786.8 1308 783.8L1308 764.4" stroke="#666" stroke-width="1.0" fill="none" />
<rect x="1282.4" y="528.9" width="18.4" height="8.4" rx="4.2" stroke="#555" stroke-width="1.0" fill="none"/>
<rect x="1282.4" y="774.6" width="18.4" height="8.4" rx="4.2" stroke="#555" stroke-width="1.0" fill="none"/>
<path d="M1013 547.2L1318.4 547.2" stroke="#999" stroke-width="1.8" />
<path d="M1013 764.4L1318.4 764.4" stroke="#999" stroke-width="1.8" />
<rect x="1013" y="552.8" width="305.4" height="15.6" rx="0" stroke="none" stroke-width="0" fill="#a0a0a0"/>
<path d="M1013 554.1L1318.4 554.1" stroke="#5a5a5a" stroke-width="2.2" />
<path d="M1027 556.8L1304.4 556.8" stroke="#d6d6d6" stroke-width="1.5" />
<path d="M1013 562.2L1318.4 562.2" stroke="#5a5a5a" stroke-width="1.7" />
<path d="M1013 565.2L1318.4 565.2" stroke="#dcdcdc" stroke-width="2.6" />
<path d="M1013 568.2L1318.4 568.2" stroke="#555" stroke-width="1.3" />
<path d="M1037 547.2L1043.4 551.6L1288 551.6L1294.4 547.2" stroke="#555" stroke-width="0.9" fill="none" stroke-linejoin="round" />
<rect x="1013" y="745.2" width="305.4" height="15.6" rx="0" stroke="none" stroke-width="0" fill="#a0a0a0"/>
<path d="M1013 759.5L1318.4 759.5" stroke="#5a5a5a" stroke-width="2.2" />
<path d="M1027 756.8L1304.4 756.8" stroke="#d6d6d6" stroke-width="1.5" />
<path d="M1013 751.4L1318.4 751.4" stroke="#5a5a5a" stroke-width="1.7" />
<path d="M1013 748.4L1318.4 748.4" stroke="#dcdcdc" stroke-width="2.6" />
<path d="M1013 745.4L1318.4 745.4" stroke="#555" stroke-width="1.3" />
<path d="M1037 766.4L1043.4 762L1288 762L1294.4 766.4" stroke="#555" stroke-width="0.9" fill="none" stroke-linejoin="round" />
<path d="M1013 547.2L1013 764.4" stroke="#3a3a3a" stroke-width="1.3" />
<path d="M1318.4 547.2L1318.4 764.4" stroke="#3a3a3a" stroke-width="1.3" />
<path d="M1013 547.2L1013 570" stroke="#333" stroke-width="2.0" />
<path d="M1013 741.6L1013 764.4" stroke="#333" stroke-width="2.0" />
<path d="M1318.4 547.2L1318.4 570" stroke="#333" stroke-width="2.0" />
<path d="M1318.4 741.6L1318.4 764.4" stroke="#333" stroke-width="2.0" />
<path d="M1014 569.4L1017.5 573L1017.5 738.6L1014 742.2" stroke="#777" stroke-width="1.0" fill="none" />
<path d="M1317.4 569.4L1313.9 573L1313.9 738.6L1317.4 742.2" stroke="#777" stroke-width="1.0" fill="none" />
<circle cx="1021.5" cy="556.3" r="4.6" stroke="#444" stroke-width="1.0" fill="#fff"/>
<circle cx="1021.5" cy="556.3" r="3.04" stroke="#555" stroke-width="0.9" fill="none"/>
<path d="M1018.74 556.3L1024.26 556.3" stroke="#333" stroke-width="1.0" />
<path d="M1021.5 553.54L1021.5 559.06" stroke="#333" stroke-width="1.0" />
<circle cx="1309.4" cy="556.3" r="4.6" stroke="#444" stroke-width="1.0" fill="#fff"/>
<circle cx="1309.4" cy="556.3" r="3.04" stroke="#555" stroke-width="0.9" fill="none"/>
<path d="M1306.64 556.3L1312.16 556.3" stroke="#333" stroke-width="1.0" />
<path d="M1309.4 553.54L1309.4 559.06" stroke="#333" stroke-width="1.0" />
<circle cx="1021.5" cy="755.3" r="4.6" stroke="#444" stroke-width="1.0" fill="#fff"/>
<circle cx="1021.5" cy="755.3" r="3.04" stroke="#555" stroke-width="0.9" fill="none"/>
<path d="M1018.74 755.3L1024.26 755.3" stroke="#333" stroke-width="1.0" />
<path d="M1021.5 752.54L1021.5 758.06" stroke="#333" stroke-width="1.0" />
<circle cx="1309.4" cy="755.3" r="4.6" stroke="#444" stroke-width="1.0" fill="#fff"/>
<circle cx="1309.4" cy="755.3" r="3.04" stroke="#555" stroke-width="0.9" fill="none"/>
<path d="M1306.64 755.3L1312.16 755.3" stroke="#333" stroke-width="1.0" />
<path d="M1309.4 752.54L1309.4 758.06" stroke="#333" stroke-width="1.0" />
<rect x="1076.9" y="618.2" width="178.2" height="72.5" rx="7" stroke="#6a6a6a" stroke-width="1.4" fill="none"/>
<path d="M1162.53 627.38L1085.26 627.38Q1080.26 627.38 1080.26 632.38L1080.26 684.43Q1080.26 689.43 1085.26 689.43L1246.74 689.43Q1251.74 689.43 1251.74 684.43L1251.74 632.38Q1251.74 627.38 1246.74 627.38L1169.47 627.38" stroke="#6a6a6a" stroke-width="1.3" fill="none" />
<path d="M1162.53 627.38L1162.53 630.34L1089.86 630.34Q1081.86 630.34 1081.86 637.34L1081.86 682.83Q1081.86 687.83 1086.86 687.83" stroke="#888" stroke-width="0.9" fill="none" />
<path d="M1169.47 627.38L1169.47 630.34L1242.14 630.34Q1250.14 630.34 1250.14 637.34L1250.14 682.83Q1250.14 687.83 1245.14 687.83" stroke="#888" stroke-width="0.9" fill="none" />
<path d="M1160.54 618.2L1160.54 627.38" stroke="#666" stroke-width="0.9" />
<path d="M1171.46 618.2L1171.46 627.38" stroke="#666" stroke-width="0.9" />
<path d="M1162.53 620.84L1169.47 620.84" stroke="#8a8a8a" stroke-width="0.8" />
<path d="M1093.28 618.7L1093.28 632.45" stroke="#666" stroke-width="1.0" />
<path d="M1100.42 618.7L1100.42 632.45" stroke="#666" stroke-width="1.0" />
<path d="M1090.34 619.7L1090.34 624.53" stroke="#8a8a8a" stroke-width="0.8" />
<path d="M1103.36 619.7L1103.36 624.53" stroke="#8a8a8a" stroke-width="0.8" />
<path d="M1093.07 632.45L1095.28 632.45" stroke="#666" stroke-width="0.9" />
<path d="M1100.63 632.45L1098.43 632.45" stroke="#666" stroke-width="0.9" />
<path d="M1229.16 618.7L1229.16 632.45" stroke="#666" stroke-width="1.0" />
<path d="M1236.3 618.7L1236.3 632.45" stroke="#666" stroke-width="1.0" />
<path d="M1226.22 619.7L1226.22 624.53" stroke="#8a8a8a" stroke-width="0.8" />
<path d="M1239.24 619.7L1239.24 624.53" stroke="#8a8a8a" stroke-width="0.8" />
<path d="M1228.95 632.45L1231.16 632.45" stroke="#666" stroke-width="0.9" />
<path d="M1236.51 632.45L1234.31 632.45" stroke="#666" stroke-width="0.9" />
<circle cx="1097.9" cy="683.21" r="5.25" stroke="#777" stroke-width="0.9" fill="none"/>
<path d="M1092.65 682.41L1103.15 682.41" stroke="#888" stroke-width="0.7" />
<path d="M1092.65 684.01L1103.15 684.01" stroke="#888" stroke-width="0.7" />
<circle cx="1166" cy="683.21" r="5.25" stroke="#777" stroke-width="0.9" fill="none"/>
<path d="M1160.75 682.41L1171.25 682.41" stroke="#888" stroke-width="0.7" />
<path d="M1160.75 684.01L1171.25 684.01" stroke="#888" stroke-width="0.7" />
<circle cx="1233.47" cy="683.21" r="5.25" stroke="#777" stroke-width="0.9" fill="none"/>
<path d="M1228.22 682.41L1238.72 682.41" stroke="#888" stroke-width="0.7" />
<path d="M1228.22 684.01L1238.72 684.01" stroke="#888" stroke-width="0.7" />
<rect x="1106.3" y="681.2" width="29.82" height="11.61" rx="1" stroke="#444" stroke-width="0.8" fill="#fff"/>
<rect x="1107.5" y="685.74" width="27.42" height="7.07" rx="0.5" stroke="#222" stroke-width="0.5" fill="#222"/>
<rect x="1113.65" y="682.57" width="15.12" height="3.17" rx="1.2" stroke="#555" stroke-width="0.8" fill="#fff"/>
<rect x="1194.4" y="681.2" width="29.61" height="11.61" rx="1" stroke="#444" stroke-width="0.8" fill="#fff"/>
<rect x="1195.6" y="685.74" width="27.21" height="7.07" rx="0.5" stroke="#222" stroke-width="0.5" fill="#222"/>
<rect x="1201.76" y="682.57" width="14.91" height="3.17" rx="1.2" stroke="#555" stroke-width="0.8" fill="#fff"/>
<path d="M1136.12 689.43L1194.4 689.43" stroke="#444" stroke-width="1.5" />
<path d="M1089.5 689.43L1107.35 689.43" stroke="#333" stroke-width="1.4" />
<path d="M1224.65 689.43L1242.5 689.43" stroke="#333" stroke-width="1.4" />
<path d="M1388 479L1388 761.5" stroke="#777" stroke-width="1.0" />
<path d="M1519.8 479L1519.8 547" stroke="#666" stroke-width="1.0" />
<path d="M1388 484.3L1519.8 484.3" stroke="#3c3c3c" stroke-width="1.0" />
<path d="M1388 484.3L1398 482.6L1398 486Z" fill="#333" stroke="none"/>
<path d="M1519.8 484.3L1509.8 486L1509.8 482.6Z" fill="#333" stroke="none"/>
<text x="1455.5" y="479.4" font-size="15" text-anchor="middle" fill="#333">181</text>
<rect x="1388" y="525.4" width="4.6" height="50.6" rx="0.8" stroke="#555" stroke-width="1.0" fill="#fff"/>
<path d="M1388.2 525.9L1388.2 575.5" stroke="#444" stroke-width="1.6" />
<rect x="1388" y="734" width="4.6" height="44.2" rx="0.8" stroke="#555" stroke-width="1.0" fill="#fff"/>
<path d="M1388.2 734.5L1388.2 777.7" stroke="#444" stroke-width="1.6" />
<path d="M1392.6 549.8L1491.9 549.8" stroke="#555" stroke-width="1.1" />
<path d="M1392.6 760.7L1491.9 760.7" stroke="#555" stroke-width="1.1" />
<rect x="1491.9" y="547.2" width="28.2" height="218.2" rx="3" stroke="#555" stroke-width="1.1" fill="none"/>
<path d="M1497 547.2L1497 765.4" stroke="#555" stroke-width="1.0" />
<path d="M1503.4 547.2L1503.4 765.4" stroke="#666" stroke-width="1.0" />
<path d="M1503.4 570.9L1520.1 570.9" stroke="#555" stroke-width="1.0" />
<path d="M1503.4 576.8L1520.1 576.8" stroke="#555" stroke-width="1.0" />
<path d="M1503.4 738.4L1520.1 738.4" stroke="#555" stroke-width="1.0" />
<path d="M1503.4 744.8L1520.1 744.8" stroke="#555" stroke-width="1.0" />
<path d="M1497 548.6L1519 548.6" stroke="#aaa" stroke-width="1.4" />
<path d="M1497 764L1519 764" stroke="#aaa" stroke-width="1.4" />
<text x="1142" y="853" font-size="25" text-anchor="start" fill="#2a2a2a" textLength="216" lengthAdjust="spacingAndGlyphs">FDZ52-L-100-250A</text>
<path d="M69.1 1043L69.1 1100" stroke="#666" stroke-width="1.0" />
<path d="M190.9 1043L190.9 1100" stroke="#666" stroke-width="1.0" />
<path d="M69.1 1049.6L190.9 1049.6" stroke="#3c3c3c" stroke-width="1.0" />
<path d="M69.1 1049.6L79.1 1047.9L79.1 1051.3Z" fill="#333" stroke="none"/>
<path d="M190.9 1049.6L180.9 1051.3L180.9 1047.9Z" fill="#333" stroke="none"/>
<text x="131" y="1047" font-size="15" text-anchor="middle" fill="#333">175</text>
<path d="M74 1066.5L74 1086.6" stroke="#666" stroke-width="1.0" />
<path d="M186.6 1066.5L186.6 1086.6" stroke="#666" stroke-width="1.0" />
<path d="M74 1070.9L186.6 1070.9" stroke="#3c3c3c" stroke-width="1.0" />
<path d="M74 1070.9L84 1069.2L84 1072.6Z" fill="#333" stroke="none"/>
<path d="M186.6 1070.9L176.6 1072.6L176.6 1069.2Z" fill="#333" stroke="none"/>
<text x="131" y="1067.5" font-size="15" text-anchor="middle" fill="#333">150</text>
<path d="M21.9 1086.6L92 1086.6" stroke="#444" stroke-width="1.0" />
<path d="M21.9 1215.4L74 1215.4" stroke="#555" stroke-width="1.0" />
<path d="M25.9 1086.6L25.9 1215.4" stroke="#3c3c3c" stroke-width="1.0" />
<path d="M25.9 1086.6L27.6 1096.6L24.2 1096.6Z" fill="#333" stroke="none"/>
<path d="M25.9 1215.4L24.2 1205.4L27.6 1205.4Z" fill="#333" stroke="none"/>
<text x="22.6" y="1150.5" font-size="15" text-anchor="middle" fill="#333" transform="rotate(-90 22.6 1150.5)">200</text>
<path d="M46 1102.3L67 1102.3" stroke="#666" stroke-width="1.0" />
<path d="M46 1199.8L67 1199.8" stroke="#666" stroke-width="1.0" />
<path d="M50.4 1102.3L50.4 1199.8" stroke="#3c3c3c" stroke-width="1.0" />
<path d="M50.4 1102.3L52.1 1112.3L48.7 1112.3Z" fill="#333" stroke="none"/>
<path d="M50.4 1199.8L48.7 1189.8L52.1 1189.8Z" fill="#333" stroke="none"/>
<text x="47" y="1150.5" font-size="15" text-anchor="middle" fill="#333" transform="rotate(-90 47 1150.5)">152</text>
<rect x="74" y="1086.6" width="112.6" height="128.8" rx="0" stroke="#5a5a5a" stroke-width="1.1" fill="none"/>
<path d="M72.3 1086.6L72.3 1215.4" stroke="#999" stroke-width="0.9" />
<rect x="63.7" y="1097.5" width="10.3" height="9.6" rx="0.5" stroke="#888" stroke-width="1.0" fill="none"/>
<path d="M65.3 1106.1L65.3 1099.1L74 1099.1" stroke="#444" stroke-width="1.0" fill="none" stroke-linejoin="round" />
<path d="M69.1 1100.2L71.2 1102.3L69.1 1104.4L67 1102.3Z" stroke="#555" stroke-width="0.9" fill="none" stroke-linejoin="round" />
<circle cx="69.1" cy="1102.3" r="1.16" stroke="#999" stroke-width="0.6" fill="none"/>
<rect x="63.7" y="1195" width="10.3" height="9.6" rx="0.5" stroke="#888" stroke-width="1.0" fill="none"/>
<path d="M65.3 1203.6L65.3 1196.6L74 1196.6" stroke="#444" stroke-width="1.0" fill="none" stroke-linejoin="round" />
<path d="M69.1 1197.7L71.2 1199.8L69.1 1201.9L67 1199.8Z" stroke="#555" stroke-width="0.9" fill="none" stroke-linejoin="round" />
<circle cx="69.1" cy="1199.8" r="1.16" stroke="#999" stroke-width="0.6" fill="none"/>
<rect x="186.6" y="1097.5" width="10.2" height="9.6" rx="0.5" stroke="#888" stroke-width="1.0" fill="none"/>
<path d="M186.6 1099.1L195.2 1099.1L195.2 1106.1" stroke="#777" stroke-width="0.9" fill="none" stroke-linejoin="round" />
<path d="M186.6 1107.1L196.8 1107.1" stroke="#555" stroke-width="1.0" />
<path d="M191 1100.2L193.1 1102.3L191 1104.4L188.9 1102.3Z" stroke="#555" stroke-width="0.9" fill="none" stroke-linejoin="round" />
<circle cx="191" cy="1102.3" r="1.16" stroke="#999" stroke-width="0.6" fill="none"/>
<rect x="186.6" y="1195" width="10.2" height="9.6" rx="0.5" stroke="#888" stroke-width="1.0" fill="none"/>
<path d="M186.6 1196.6L195.2 1196.6L195.2 1203.6" stroke="#777" stroke-width="0.9" fill="none" stroke-linejoin="round" />
<path d="M186.6 1204.6L196.8 1204.6" stroke="#555" stroke-width="1.0" />
<path d="M191 1197.7L193.1 1199.8L191 1201.9L188.9 1199.8Z" stroke="#555" stroke-width="0.9" fill="none" stroke-linejoin="round" />
<circle cx="191" cy="1199.8" r="1.16" stroke="#999" stroke-width="0.6" fill="none"/>
<path d="M80.3 1091L82.6 1093.3L80.3 1095.6L78 1093.3Z" stroke="#666" stroke-width="0.9" fill="none" stroke-linejoin="round" />
<circle cx="80.3" cy="1093.3" r="1.26" stroke="#999" stroke-width="0.6" fill="none"/>
<path d="M179.9 1091L182.2 1093.3L179.9 1095.6L177.6 1093.3Z" stroke="#666" stroke-width="0.9" fill="none" stroke-linejoin="round" />
<circle cx="179.9" cy="1093.3" r="1.26" stroke="#999" stroke-width="0.6" fill="none"/>
<path d="M80.3 1206.5L82.6 1208.8L80.3 1211.1L78 1208.8Z" stroke="#666" stroke-width="0.9" fill="none" stroke-linejoin="round" />
<circle cx="80.3" cy="1208.8" r="1.26" stroke="#999" stroke-width="0.6" fill="none"/>
<path d="M179.9 1206.5L182.2 1208.8L179.9 1211.1L177.6 1208.8Z" stroke="#666" stroke-width="0.9" fill="none" stroke-linejoin="round" />
<circle cx="179.9" cy="1208.8" r="1.26" stroke="#999" stroke-width="0.6" fill="none"/>
<rect x="88.1" y="1110.3" width="83.7" height="62.5" rx="6" stroke="#777" stroke-width="1.1" fill="none"/>
<rect x="89.4" y="1111.6" width="81.1" height="59.9" rx="5" stroke="#bbb" stroke-width="0.6" fill="none"/>
<rect x="93.2" y="1124.4" width="73.7" height="36.3" rx="2" stroke="#3c3c3c" stroke-width="1.1" fill="none"/>
<path d="M101.17 1111.1L101.17 1122.9" stroke="#8a8a8a" stroke-width="0.9" />
<path d="M103.77 1110.8L103.77 1124.4" stroke="#3c3c3c" stroke-width="1.1" />
<path d="M101.17 1115.05L99.37 1116.64L101.17 1118.24Z" stroke="#666" stroke-width="0.5" fill="#777" />
<path d="M114.23 1111.1L114.23 1122.9" stroke="#8a8a8a" stroke-width="0.9" />
<path d="M111.63 1110.8L111.63 1124.4" stroke="#3c3c3c" stroke-width="1.1" />
<path d="M114.23 1115.05L116.03 1116.64L114.23 1118.24Z" stroke="#666" stroke-width="0.5" fill="#777" />
<path d="M146.47 1111.1L146.47 1122.9" stroke="#8a8a8a" stroke-width="0.9" />
<path d="M149.07 1110.8L149.07 1124.4" stroke="#3c3c3c" stroke-width="1.1" />
<path d="M146.47 1115.05L144.67 1116.64L146.47 1118.24Z" stroke="#666" stroke-width="0.5" fill="#777" />
<path d="M159.53 1111.1L159.53 1122.9" stroke="#8a8a8a" stroke-width="0.9" />
<path d="M156.93 1110.8L156.93 1124.4" stroke="#3c3c3c" stroke-width="1.1" />
<path d="M159.53 1115.05L161.33 1116.64L159.53 1118.24Z" stroke="#666" stroke-width="0.5" fill="#777" />
<circle cx="100.2" cy="1167.1" r="4.5" stroke="#5a5a5a" stroke-width="0.9" fill="none"/>
<path d="M97.02 1163.92L103.38 1170.28" stroke="#5a5a5a" stroke-width="0.9" />
<path d="M96.35 1165.09L102.21 1170.95" stroke="#8a8a8a" stroke-width="0.7" />
<circle cx="160.9" cy="1167.1" r="4.5" stroke="#5a5a5a" stroke-width="0.9" fill="none"/>
<path d="M157.72 1163.92L164.08 1170.28" stroke="#5a5a5a" stroke-width="0.9" />
<path d="M157.05 1165.09L162.91 1170.95" stroke="#8a8a8a" stroke-width="0.7" />
<rect x="106.3" y="1160.7" width="18.6" height="14.1" rx="0" stroke="none" stroke-width="0" fill="#fff"/>
<path d="M106.3 1160.7L106.3 1173.8" stroke="#5a5a5a" stroke-width="1.0" />
<path d="M124.9 1160.7L124.9 1173.8" stroke="#5a5a5a" stroke-width="1.0" />
<path d="M105.7 1170.57L125.5 1170.57L125.5 1173.6Q125.5 1174.8 124.1 1174.8L107.1 1174.8Q105.7 1174.8 105.7 1173.6Z" stroke="#555" stroke-width="0.6" fill="#606060" />
<path d="M108.72 1168.6L114.48 1168.6" stroke="#555" stroke-width="1.8" />
<path d="M116.72 1168.6L122.48 1168.6" stroke="#555" stroke-width="1.8" />
<rect x="136.1" y="1160.7" width="18.3" height="14.1" rx="0" stroke="none" stroke-width="0" fill="#fff"/>
<path d="M136.1 1160.7L136.1 1173.8" stroke="#5a5a5a" stroke-width="1.0" />
<path d="M154.4 1160.7L154.4 1173.8" stroke="#5a5a5a" stroke-width="1.0" />
<path d="M135.5 1170.57L155 1170.57L155 1173.6Q155 1174.8 153.6 1174.8L136.9 1174.8Q135.5 1174.8 135.5 1173.6Z" stroke="#555" stroke-width="0.6" fill="#606060" />
<path d="M138.48 1168.6L144.15 1168.6" stroke="#555" stroke-width="1.8" />
<path d="M146.35 1168.6L152.02 1168.6" stroke="#555" stroke-width="1.8" />
<path d="M95.2 1160.7L164.9 1160.7" stroke="#3c3c3c" stroke-width="1.1" />
<rect x="100.6" y="1180.9" width="59" height="29.9" rx="2" stroke="#555" stroke-width="1.0" fill="none"/>
<rect x="97.7" y="1215.97" width="6" height="3.83" rx="1" stroke="#999" stroke-width="0.8" fill="#d4d4d4"/>
<rect x="105.95" y="1215.97" width="8.5" height="3.83" rx="1" stroke="#999" stroke-width="0.8" fill="#d4d4d4"/>
<rect x="116.7" y="1215.97" width="6" height="3.83" rx="1" stroke="#999" stroke-width="0.8" fill="#d4d4d4"/>
<path d="M99.7 1219.8L99.7 1222.48" stroke="#8a8a8a" stroke-width="1.0" />
<path d="M120.7 1219.8L120.7 1222.48" stroke="#8a8a8a" stroke-width="1.0" />
<rect x="97.7" y="1222.48" width="25" height="9.76" rx="1.5" stroke="#222" stroke-width="0.6" fill="#2a2a2a"/>
<path d="M103.95 1222.98L103.95 1231.73" stroke="#777" stroke-width="0.8" />
<path d="M116.45 1222.98L116.45 1231.73" stroke="#777" stroke-width="0.8" />
<path d="M99.9 1232.23L102.3 1236Q102.9 1237.4 104.5 1237.4L115.9 1237.4Q117.5 1237.4 118.1 1236L120.5 1232.23" stroke="#666" stroke-width="1" fill="none" />
<rect x="137.2" y="1215.97" width="6" height="3.83" rx="1" stroke="#999" stroke-width="0.8" fill="#d4d4d4"/>
<rect x="145.45" y="1215.97" width="8.5" height="3.83" rx="1" stroke="#999" stroke-width="0.8" fill="#d4d4d4"/>
<rect x="156.2" y="1215.97" width="6" height="3.83" rx="1" stroke="#999" stroke-width="0.8" fill="#d4d4d4"/>
<path d="M139.2 1219.8L139.2 1222.48" stroke="#8a8a8a" stroke-width="1.0" />
<path d="M160.2 1219.8L160.2 1222.48" stroke="#8a8a8a" stroke-width="1.0" />
<rect x="137.2" y="1222.48" width="25" height="9.76" rx="1.5" stroke="#222" stroke-width="0.6" fill="#2a2a2a"/>
<path d="M143.45 1222.98L143.45 1231.73" stroke="#777" stroke-width="0.8" />
<path d="M155.95 1222.98L155.95 1231.73" stroke="#777" stroke-width="0.8" />
<path d="M139.4 1232.23L141.8 1236Q142.4 1237.4 144 1237.4L155.4 1237.4Q157 1237.4 157.6 1236L160 1232.23" stroke="#666" stroke-width="1" fill="none" />
<path d="M293.3 1086.6L246.6 1086.6Q244.6 1086.6 244.6 1088.6L244.6 1213.4Q244.6 1215.4 246.6 1215.4L293.3 1215.4" stroke="#555" stroke-width="1.1" fill="none" />
<path d="M293.3 1086.6L293.3 1215.4" stroke="#555" stroke-width="1.1" />
<path d="M293.3 1086.6L305.2 1086.6Q308.2 1086.6 308.2 1089.6L308.2 1212.4Q308.2 1215.4 305.2 1215.4L293.3 1215.4" stroke="#555" stroke-width="1.1" fill="none" />
<path d="M243.1 1089.6L243.1 1105.6" stroke="#666" stroke-width="0.9" />
<path d="M243.1 1196.4L243.1 1206.4" stroke="#666" stroke-width="0.9" />
<path d="M308.2 1109.9L319.82 1109.9" stroke="#444" stroke-width="1.0" />
<path d="M312.14 1110.4L312.14 1173.2" stroke="#7a7a7a" stroke-width="1.2" />
<path d="M308.2 1173.4L314.77 1173.4" stroke="#555" stroke-width="1.0" />
<path d="M312.75 1110.4L318.1 1113" stroke="#555" stroke-width="0.9" />
<circle cx="320.12" cy="1113.8" r="2.2" stroke="#444" stroke-width="1.2" fill="none"/>
<path d="M317.7 1115L317.7 1169.5" stroke="#444" stroke-width="1.0" />
<path d="M320.83 1116L320.83 1169.5" stroke="#888" stroke-width="1.1" />
<path d="M317.7 1169.5L316.89 1173.2L315.68 1175.9L320.93 1176.5L321.74 1172.7L320.83 1169.5Z" stroke="#888" stroke-width="0.8" fill="#ccc" stroke-linejoin="round" />
<path d="M318.91 1170.2L318.5 1175.9" stroke="#666" stroke-width="0.8" />
<rect x="320.83" y="1158" width="3.54" height="4.8" rx="0.3" stroke="#777" stroke-width="0.8" fill="none"/>
<rect x="324.36" y="1155.8" width="3.64" height="9.2" rx="1.2" stroke="#333" stroke-width="0.5" fill="#444"/>
<path d="M244.6 1063.9L244.6 1086.6" stroke="#666" stroke-width="1.0" />
<path d="M308.2 1063.9L308.2 1086.6" stroke="#666" stroke-width="1.0" />
<path d="M244.6 1067.8L308.2 1067.8" stroke="#3c3c3c" stroke-width="1.0" />
<path d="M244.6 1067.8L254.6 1066.1L254.6 1069.5Z" fill="#333" stroke="none"/>
<path d="M308.2 1067.8L298.2 1069.5L298.2 1066.1Z" fill="#333" stroke="none"/>
<text x="278.6" y="1065.2" font-size="15" text-anchor="middle" fill="#333">100</text>
<rect x="258.4" y="1215.97" width="6" height="3.83" rx="1" stroke="#999" stroke-width="0.8" fill="#d4d4d4"/>
<rect x="266.65" y="1215.97" width="8.5" height="3.83" rx="1" stroke="#999" stroke-width="0.8" fill="#d4d4d4"/>
<rect x="277.4" y="1215.97" width="6" height="3.83" rx="1" stroke="#999" stroke-width="0.8" fill="#d4d4d4"/>
<path d="M260.4 1219.8L260.4 1222.48" stroke="#8a8a8a" stroke-width="1.0" />
<path d="M281.4 1219.8L281.4 1222.48" stroke="#8a8a8a" stroke-width="1.0" />
<rect x="258.4" y="1222.48" width="25" height="9.76" rx="1.5" stroke="#222" stroke-width="0.6" fill="#2a2a2a"/>
<path d="M264.65 1222.98L264.65 1231.73" stroke="#777" stroke-width="0.8" />
<path d="M277.15 1222.98L277.15 1231.73" stroke="#777" stroke-width="0.8" />
<path d="M260.6 1232.23L263 1236Q263.6 1237.4 265.2 1237.4L276.6 1237.4Q278.2 1237.4 278.8 1236L281.2 1232.23" stroke="#666" stroke-width="1" fill="none" />
<text x="38" y="1290" font-size="25" text-anchor="start" fill="#2a2a2a" textLength="195" lengthAdjust="spacingAndGlyphs">FDZ52-G-10-32A</text>
<path d="M440.5 1023.7L440.5 1079" stroke="#666" stroke-width="1.0" />
<path d="M562.4 1023.7L562.4 1079" stroke="#666" stroke-width="1.0" />
<path d="M440.5 1028.2L562.4 1028.2" stroke="#3c3c3c" stroke-width="1.0" />
<path d="M440.5 1028.2L450.5 1026.5L450.5 1029.9Z" fill="#333" stroke="none"/>
<path d="M562.4 1028.2L552.4 1029.9L552.4 1026.5Z" fill="#333" stroke="none"/>
<text x="501.6" y="1025" font-size="15" text-anchor="middle" fill="#333">190</text>
<path d="M445.2 1046.3L445.2 1066.6" stroke="#666" stroke-width="1.0" />
<path d="M557.9 1046.3L557.9 1066.6" stroke="#666" stroke-width="1.0" />
<path d="M445.2 1050.8L557.9 1050.8" stroke="#3c3c3c" stroke-width="1.0" />
<path d="M445.2 1050.8L455.2 1049.1L455.2 1052.5Z" fill="#333" stroke="none"/>
<path d="M557.9 1050.8L547.9 1052.5L547.9 1049.1Z" fill="#333" stroke="none"/>
<text x="501.6" y="1047.6" font-size="15" text-anchor="middle" fill="#333">175</text>
<path d="M396 1066.6L462.6 1066.6" stroke="#444" stroke-width="1.0" />
<path d="M396 1214.2L445.2 1214.2" stroke="#555" stroke-width="1.0" />
<path d="M400.5 1066.6L400.5 1214.2" stroke="#3c3c3c" stroke-width="1.0" />
<path d="M400.5 1066.6L402.2 1076.6L398.8 1076.6Z" fill="#333" stroke="none"/>
<path d="M400.5 1214.2L398.8 1204.2L402.2 1204.2Z" fill="#333" stroke="none"/>
<text x="397.8" y="1140" font-size="15" text-anchor="middle" fill="#333" transform="rotate(-90 397.8 1140)">230</text>
<path d="M417.4 1080.8L438.5 1080.8" stroke="#666" stroke-width="1.0" />
<path d="M417.4 1198.7L438.5 1198.7" stroke="#666" stroke-width="1.0" />
<path d="M421.5 1080.8L421.5 1198.7" stroke="#3c3c3c" stroke-width="1.0" />
<path d="M421.5 1080.8L423.2 1090.8L419.8 1090.8Z" fill="#333" stroke="none"/>
<path d="M421.5 1198.7L419.8 1188.7L423.2 1188.7Z" fill="#333" stroke="none"/>
<text x="418.2" y="1139" font-size="15" text-anchor="middle" fill="#333" transform="rotate(-90 418.2 1139)">182</text>
<rect x="445.2" y="1066.6" width="112.7" height="147.6" rx="0" stroke="#5a5a5a" stroke-width="1.1" fill="none"/>
<path d="M443.5 1066.6L443.5 1214.2" stroke="#999" stroke-width="0.9" />
<rect x="435.5" y="1076.8" width="9.7" height="9" rx="0.5" stroke="#888" stroke-width="1.0" fill="none"/>
<path d="M437.1 1084.8L437.1 1078.4L445.2 1078.4" stroke="#444" stroke-width="1.0" fill="none" stroke-linejoin="round" />
<path d="M440.5 1078.7L442.6 1080.8L440.5 1082.9L438.4 1080.8Z" stroke="#555" stroke-width="0.9" fill="none" stroke-linejoin="round" />
<circle cx="440.5" cy="1080.8" r="1.16" stroke="#999" stroke-width="0.6" fill="none"/>
<rect x="435.5" y="1194.2" width="9.7" height="9.7" rx="0.5" stroke="#888" stroke-width="1.0" fill="none"/>
<path d="M437.1 1202.9L437.1 1195.8L445.2 1195.8" stroke="#444" stroke-width="1.0" fill="none" stroke-linejoin="round" />
<path d="M440.5 1196.6L442.6 1198.7L440.5 1200.8L438.4 1198.7Z" stroke="#555" stroke-width="0.9" fill="none" stroke-linejoin="round" />
<circle cx="440.5" cy="1198.7" r="1.16" stroke="#999" stroke-width="0.6" fill="none"/>
<rect x="557.9" y="1076.8" width="9.7" height="9" rx="0.5" stroke="#888" stroke-width="1.0" fill="none"/>
<path d="M557.9 1078.4L566 1078.4L566 1084.8" stroke="#777" stroke-width="0.9" fill="none" stroke-linejoin="round" />
<path d="M557.9 1085.8L567.6 1085.8" stroke="#555" stroke-width="1.0" />
<path d="M562.4 1078.7L564.5 1080.8L562.4 1082.9L560.3 1080.8Z" stroke="#555" stroke-width="0.9" fill="none" stroke-linejoin="round" />
<circle cx="562.4" cy="1080.8" r="1.16" stroke="#999" stroke-width="0.6" fill="none"/>
<rect x="557.9" y="1194.2" width="9.7" height="9.7" rx="0.5" stroke="#888" stroke-width="1.0" fill="none"/>
<path d="M557.9 1195.8L566 1195.8L566 1202.9" stroke="#777" stroke-width="0.9" fill="none" stroke-linejoin="round" />
<path d="M557.9 1203.9L567.6 1203.9" stroke="#555" stroke-width="1.0" />
<path d="M562.4 1196.6L564.5 1198.7L562.4 1200.8L560.3 1198.7Z" stroke="#555" stroke-width="0.9" fill="none" stroke-linejoin="round" />
<circle cx="562.4" cy="1198.7" r="1.16" stroke="#999" stroke-width="0.6" fill="none"/>
<path d="M451.7 1070.4L454 1072.7L451.7 1075L449.4 1072.7Z" stroke="#666" stroke-width="0.9" fill="none" stroke-linejoin="round" />
<circle cx="451.7" cy="1072.7" r="1.26" stroke="#999" stroke-width="0.6" fill="none"/>
<path d="M551.1 1070.4L553.4 1072.7L551.1 1075L548.8 1072.7Z" stroke="#666" stroke-width="0.9" fill="none" stroke-linejoin="round" />
<circle cx="551.1" cy="1072.7" r="1.26" stroke="#999" stroke-width="0.6" fill="none"/>
<path d="M451.7 1205L454 1207.3L451.7 1209.6L449.4 1207.3Z" stroke="#666" stroke-width="0.9" fill="none" stroke-linejoin="round" />
<circle cx="451.7" cy="1207.3" r="1.26" stroke="#999" stroke-width="0.6" fill="none"/>
<path d="M551.1 1205L553.4 1207.3L551.1 1209.6L548.8 1207.3Z" stroke="#666" stroke-width="0.9" fill="none" stroke-linejoin="round" />
<circle cx="551.1" cy="1207.3" r="1.26" stroke="#999" stroke-width="0.6" fill="none"/>
<rect x="459.9" y="1090.3" width="82.8" height="63.2" rx="6" stroke="#777" stroke-width="1.1" fill="none"/>
<rect x="461.2" y="1091.6" width="80.2" height="60.6" rx="5" stroke="#bbb" stroke-width="0.6" fill="none"/>
<rect x="465.3" y="1105" width="72.2" height="35.7" rx="2" stroke="#3c3c3c" stroke-width="1.1" fill="none"/>
<path d="M471.34 1091.1L471.34 1103.5" stroke="#8a8a8a" stroke-width="0.9" />
<path d="M473.94 1090.8L473.94 1105" stroke="#3c3c3c" stroke-width="1.1" />
<path d="M471.34 1095.32L469.54 1096.91L471.34 1098.51Z" stroke="#666" stroke-width="0.5" fill="#777" />
<path d="M484.26 1091.1L484.26 1103.5" stroke="#8a8a8a" stroke-width="0.9" />
<path d="M481.66 1090.8L481.66 1105" stroke="#3c3c3c" stroke-width="1.1" />
<path d="M484.26 1095.32L486.06 1096.91L484.26 1098.51Z" stroke="#666" stroke-width="0.5" fill="#777" />
<path d="M516.54 1091.1L516.54 1103.5" stroke="#8a8a8a" stroke-width="0.9" />
<path d="M519.14 1090.8L519.14 1105" stroke="#3c3c3c" stroke-width="1.1" />
<path d="M516.54 1095.32L514.74 1096.91L516.54 1098.51Z" stroke="#666" stroke-width="0.5" fill="#777" />
<path d="M529.46 1091.1L529.46 1103.5" stroke="#8a8a8a" stroke-width="0.9" />
<path d="M526.86 1090.8L526.86 1105" stroke="#3c3c3c" stroke-width="1.1" />
<path d="M529.46 1095.32L531.26 1096.91L529.46 1098.51Z" stroke="#666" stroke-width="0.5" fill="#777" />
<circle cx="470.9" cy="1146.8" r="4.3" stroke="#5a5a5a" stroke-width="0.9" fill="none"/>
<path d="M467.86 1143.76L473.94 1149.84" stroke="#5a5a5a" stroke-width="0.9" />
<path d="M467.18 1144.92L472.78 1150.52" stroke="#8a8a8a" stroke-width="0.7" />
<circle cx="532.1" cy="1146.8" r="4.3" stroke="#5a5a5a" stroke-width="0.9" fill="none"/>
<path d="M529.06 1143.76L535.14 1149.84" stroke="#5a5a5a" stroke-width="0.9" />
<path d="M528.38 1144.92L533.98 1150.52" stroke="#8a8a8a" stroke-width="0.7" />
<rect x="478.4" y="1140.7" width="18.1" height="14.8" rx="0" stroke="none" stroke-width="0" fill="#fff"/>
<path d="M478.4 1140.7L478.4 1154.5" stroke="#5a5a5a" stroke-width="1.0" />
<path d="M496.5 1140.7L496.5 1154.5" stroke="#5a5a5a" stroke-width="1.0" />
<path d="M477.8 1151.06L497.1 1151.06L497.1 1154.3Q497.1 1155.5 495.7 1155.5L479.2 1155.5Q477.8 1155.5 477.8 1154.3Z" stroke="#555" stroke-width="0.6" fill="#606060" />
<path d="M480.75 1148.99L486.36 1148.99" stroke="#555" stroke-width="1.8" />
<path d="M488.54 1148.99L494.15 1148.99" stroke="#555" stroke-width="1.8" />
<rect x="507.1" y="1140.7" width="18.3" height="14.8" rx="0" stroke="none" stroke-width="0" fill="#fff"/>
<path d="M507.1 1140.7L507.1 1154.5" stroke="#5a5a5a" stroke-width="1.0" />
<path d="M525.4 1140.7L525.4 1154.5" stroke="#5a5a5a" stroke-width="1.0" />
<path d="M506.5 1151.06L526 1151.06L526 1154.3Q526 1155.5 524.6 1155.5L507.9 1155.5Q506.5 1155.5 506.5 1154.3Z" stroke="#555" stroke-width="0.6" fill="#606060" />
<path d="M509.48 1148.99L515.15 1148.99" stroke="#555" stroke-width="1.8" />
<path d="M517.35 1148.99L523.02 1148.99" stroke="#555" stroke-width="1.8" />
<path d="M467.3 1140.7L535.5 1140.7" stroke="#3c3c3c" stroke-width="1.1" />
<rect x="472.3" y="1180" width="58.5" height="30" rx="2" stroke="#555" stroke-width="1.0" fill="none"/>
<rect x="468.8" y="1214.77" width="6" height="3.83" rx="1" stroke="#999" stroke-width="0.8" fill="#d4d4d4"/>
<rect x="477.05" y="1214.77" width="8.5" height="3.83" rx="1" stroke="#999" stroke-width="0.8" fill="#d4d4d4"/>
<rect x="487.8" y="1214.77" width="6" height="3.83" rx="1" stroke="#999" stroke-width="0.8" fill="#d4d4d4"/>
<path d="M470.8 1218.6L470.8 1221.28" stroke="#8a8a8a" stroke-width="1.0" />
<path d="M491.8 1218.6L491.8 1221.28" stroke="#8a8a8a" stroke-width="1.0" />
<rect x="468.8" y="1221.28" width="25" height="9.76" rx="1.5" stroke="#222" stroke-width="0.6" fill="#2a2a2a"/>
<path d="M475.05 1221.78L475.05 1230.53" stroke="#777" stroke-width="0.8" />
<path d="M487.55 1221.78L487.55 1230.53" stroke="#777" stroke-width="0.8" />
<path d="M471 1231.03L473.4 1234.8Q474 1236.2 475.6 1236.2L487 1236.2Q488.6 1236.2 489.2 1234.8L491.6 1231.03" stroke="#666" stroke-width="1" fill="none" />
<rect x="508.8" y="1214.77" width="6" height="3.83" rx="1" stroke="#999" stroke-width="0.8" fill="#d4d4d4"/>
<rect x="517.05" y="1214.77" width="8.5" height="3.83" rx="1" stroke="#999" stroke-width="0.8" fill="#d4d4d4"/>
<rect x="527.8" y="1214.77" width="6" height="3.83" rx="1" stroke="#999" stroke-width="0.8" fill="#d4d4d4"/>
<path d="M510.8 1218.6L510.8 1221.28" stroke="#8a8a8a" stroke-width="1.0" />
<path d="M531.8 1218.6L531.8 1221.28" stroke="#8a8a8a" stroke-width="1.0" />
<rect x="508.8" y="1221.28" width="25" height="9.76" rx="1.5" stroke="#222" stroke-width="0.6" fill="#2a2a2a"/>
<path d="M515.05 1221.78L515.05 1230.53" stroke="#777" stroke-width="0.8" />
<path d="M527.55 1221.78L527.55 1230.53" stroke="#777" stroke-width="0.8" />
<path d="M511 1231.03L513.4 1234.8Q514 1236.2 515.6 1236.2L527 1236.2Q528.6 1236.2 529.2 1234.8L531.6 1231.03" stroke="#666" stroke-width="1" fill="none" />
<path d="M663.5 1066.6L615.9 1066.6Q613.9 1066.6 613.9 1068.6L613.9 1212.2Q613.9 1214.2 615.9 1214.2L663.5 1214.2" stroke="#555" stroke-width="1.1" fill="none" />
<path d="M663.5 1066.6L663.5 1214.2" stroke="#555" stroke-width="1.1" />
<path d="M663.5 1066.6L674.1 1066.6Q677.1 1066.6 677.1 1069.6L677.1 1211.2Q677.1 1214.2 674.1 1214.2L663.5 1214.2" stroke="#555" stroke-width="1.1" fill="none" />
<path d="M612.4 1069.6L612.4 1085.6" stroke="#666" stroke-width="0.9" />
<path d="M612.4 1195.2L612.4 1205.2" stroke="#666" stroke-width="0.9" />
<path d="M677.1 1089.9L688.31 1089.9" stroke="#444" stroke-width="1.0" />
<path d="M680.9 1090.4L680.9 1153.2" stroke="#7a7a7a" stroke-width="1.2" />
<path d="M677.1 1153.4L683.43 1153.4" stroke="#555" stroke-width="1.0" />
<path d="M681.49 1090.4L686.65 1093" stroke="#555" stroke-width="0.9" />
<circle cx="688.6" cy="1093.8" r="2.2" stroke="#444" stroke-width="1.2" fill="none"/>
<path d="M686.26 1095L686.26 1149.5" stroke="#444" stroke-width="1.0" />
<path d="M689.28 1096L689.28 1149.5" stroke="#888" stroke-width="1.1" />
<path d="M686.26 1149.5L685.48 1153.2L684.31 1155.9L689.38 1156.5L690.16 1152.7L689.28 1149.5Z" stroke="#888" stroke-width="0.8" fill="#ccc" stroke-linejoin="round" />
<path d="M687.43 1150.2L687.04 1155.9" stroke="#666" stroke-width="0.8" />
<rect x="689.28" y="1137.6" width="3.41" height="4.8" rx="0.3" stroke="#777" stroke-width="0.8" fill="none"/>
<rect x="692.69" y="1135.4" width="3.51" height="9.2" rx="1.2" stroke="#333" stroke-width="0.5" fill="#444"/>
<path d="M613.9 1044L613.9 1066.6" stroke="#666" stroke-width="1.0" />
<path d="M677.1 1044L677.1 1066.6" stroke="#666" stroke-width="1.0" />
<path d="M613.9 1047.4L677.1 1047.4" stroke="#3c3c3c" stroke-width="1.0" />
<path d="M613.9 1047.4L623.9 1045.7L623.9 1049.1Z" fill="#333" stroke="none"/>
<path d="M677.1 1047.4L667.1 1049.1L667.1 1045.7Z" fill="#333" stroke="none"/>
<text x="645.5" y="1044.6" font-size="15" text-anchor="middle" fill="#333">100</text>
<rect x="625.8" y="1214.77" width="6" height="3.83" rx="1" stroke="#999" stroke-width="0.8" fill="#d4d4d4"/>
<rect x="634.05" y="1214.77" width="8.5" height="3.83" rx="1" stroke="#999" stroke-width="0.8" fill="#d4d4d4"/>
<rect x="644.8" y="1214.77" width="6" height="3.83" rx="1" stroke="#999" stroke-width="0.8" fill="#d4d4d4"/>
<path d="M627.8 1218.6L627.8 1221.28" stroke="#8a8a8a" stroke-width="1.0" />
<path d="M648.8 1218.6L648.8 1221.28" stroke="#8a8a8a" stroke-width="1.0" />
<rect x="625.8" y="1221.28" width="25" height="9.76" rx="1.5" stroke="#222" stroke-width="0.6" fill="#2a2a2a"/>
<path d="M632.05 1221.78L632.05 1230.53" stroke="#777" stroke-width="0.8" />
<path d="M644.55 1221.78L644.55 1230.53" stroke="#777" stroke-width="0.8" />
<path d="M628 1231.03L630.4 1234.8Q631 1236.2 632.6 1236.2L644 1236.2Q645.6 1236.2 646.2 1234.8L648.6 1231.03" stroke="#666" stroke-width="1" fill="none" />
<text x="460" y="1290" font-size="25" text-anchor="start" fill="#2a2a2a" textLength="194" lengthAdjust="spacingAndGlyphs">FDZ52-G-40-63A</text>
<path d="M811 976.1L811 1028" stroke="#666" stroke-width="1.0" />
<path d="M950.3 976.1L950.3 1028" stroke="#666" stroke-width="1.0" />
<path d="M811 980.5L950.3 980.5" stroke="#3c3c3c" stroke-width="1.0" />
<path d="M811 980.5L821 978.8L821 982.2Z" fill="#333" stroke="none"/>
<path d="M950.3 980.5L940.3 982.2L940.3 978.8Z" fill="#333" stroke="none"/>
<text x="880.6" y="977.6" font-size="15" text-anchor="middle" fill="#333">214.5</text>
<path d="M815.6 994.2L815.6 1014.8" stroke="#666" stroke-width="1.0" />
<path d="M945.2 994.2L945.2 1014.8" stroke="#666" stroke-width="1.0" />
<path d="M815.6 998.1L945.2 998.1" stroke="#3c3c3c" stroke-width="1.0" />
<path d="M815.6 998.1L825.6 996.4L825.6 999.8Z" fill="#333" stroke="none"/>
<path d="M945.2 998.1L935.2 999.8L935.2 996.4Z" fill="#333" stroke="none"/>
<text x="880.6" y="995.2" font-size="15" text-anchor="middle" fill="#333">200</text>
<path d="M765.3 1014.8L837.5 1014.8" stroke="#444" stroke-width="1.0" />
<path d="M765.3 1207.1L815.6 1207.1" stroke="#555" stroke-width="1.0" />
<path d="M769.7 1014.8L769.7 1207.1" stroke="#3c3c3c" stroke-width="1.0" />
<path d="M769.7 1014.8L771.4 1024.8L768 1024.8Z" fill="#333" stroke="none"/>
<path d="M769.7 1207.1L768 1197.1L771.4 1197.1Z" fill="#333" stroke="none"/>
<text x="766" y="1110.3" font-size="15" text-anchor="middle" fill="#333" transform="rotate(-90 766 1110.3)">300</text>
<path d="M788.5 1029.5L809 1029.5" stroke="#666" stroke-width="1.0" />
<path d="M788.5 1190.8L809 1190.8" stroke="#666" stroke-width="1.0" />
<path d="M792.4 1029.5L792.4 1190.8" stroke="#3c3c3c" stroke-width="1.0" />
<path d="M792.4 1029.5L794.1 1039.5L790.7 1039.5Z" fill="#333" stroke="none"/>
<path d="M792.4 1190.8L790.7 1180.8L794.1 1180.8Z" fill="#333" stroke="none"/>
<text x="788.4" y="1110.3" font-size="15" text-anchor="middle" fill="#333" transform="rotate(-90 788.4 1110.3)">252</text>
<rect x="815.6" y="1014.8" width="130.6" height="192.3" rx="0" stroke="#5a5a5a" stroke-width="1.1" fill="none"/>
<path d="M813.9 1014.8L813.9 1207.1" stroke="#999" stroke-width="0.9" />
<rect x="806.6" y="1024.6" width="9" height="10.4" rx="0.5" stroke="#888" stroke-width="1.0" fill="none"/>
<path d="M808.2 1034L808.2 1026.2L815.6 1026.2" stroke="#444" stroke-width="1.0" fill="none" stroke-linejoin="round" />
<path d="M811 1027.4L813.1 1029.5L811 1031.6L808.9 1029.5Z" stroke="#555" stroke-width="0.9" fill="none" stroke-linejoin="round" />
<circle cx="811" cy="1029.5" r="1.16" stroke="#999" stroke-width="0.6" fill="none"/>
<rect x="806.6" y="1185.9" width="9" height="10.4" rx="0.5" stroke="#888" stroke-width="1.0" fill="none"/>
<path d="M808.2 1195.3L808.2 1187.5L815.6 1187.5" stroke="#444" stroke-width="1.0" fill="none" stroke-linejoin="round" />
<path d="M811 1188.7L813.1 1190.8L811 1192.9L808.9 1190.8Z" stroke="#555" stroke-width="0.9" fill="none" stroke-linejoin="round" />
<circle cx="811" cy="1190.8" r="1.16" stroke="#999" stroke-width="0.6" fill="none"/>
<rect x="946.2" y="1024.6" width="8.2" height="10.4" rx="0.5" stroke="#888" stroke-width="1.0" fill="none"/>
<path d="M946.2 1026.2L952.8 1026.2L952.8 1034" stroke="#777" stroke-width="0.9" fill="none" stroke-linejoin="round" />
<path d="M946.2 1035L954.4 1035" stroke="#555" stroke-width="1.0" />
<path d="M950.3 1027.4L952.4 1029.5L950.3 1031.6L948.2 1029.5Z" stroke="#555" stroke-width="0.9" fill="none" stroke-linejoin="round" />
<circle cx="950.3" cy="1029.5" r="1.16" stroke="#999" stroke-width="0.6" fill="none"/>
<rect x="946.2" y="1185.9" width="8.2" height="10.4" rx="0.5" stroke="#888" stroke-width="1.0" fill="none"/>
<path d="M946.2 1187.5L952.8 1187.5L952.8 1195.3" stroke="#777" stroke-width="0.9" fill="none" stroke-linejoin="round" />
<path d="M946.2 1196.3L954.4 1196.3" stroke="#555" stroke-width="1.0" />
<path d="M950.3 1188.7L952.4 1190.8L950.3 1192.9L948.2 1190.8Z" stroke="#555" stroke-width="0.9" fill="none" stroke-linejoin="round" />
<circle cx="950.3" cy="1190.8" r="1.16" stroke="#999" stroke-width="0.6" fill="none"/>
<path d="M822.6 1018.5L824.9 1020.8L822.6 1023.1L820.3 1020.8Z" stroke="#666" stroke-width="0.9" fill="none" stroke-linejoin="round" />
<circle cx="822.6" cy="1020.8" r="1.26" stroke="#999" stroke-width="0.6" fill="none"/>
<path d="M938.2 1018.5L940.5 1020.8L938.2 1023.1L935.9 1020.8Z" stroke="#666" stroke-width="0.9" fill="none" stroke-linejoin="round" />
<circle cx="938.2" cy="1020.8" r="1.26" stroke="#999" stroke-width="0.6" fill="none"/>
<path d="M822.6 1198.3L824.9 1200.6L822.6 1202.9L820.3 1200.6Z" stroke="#666" stroke-width="0.9" fill="none" stroke-linejoin="round" />
<circle cx="822.6" cy="1200.6" r="1.26" stroke="#999" stroke-width="0.6" fill="none"/>
<path d="M938.2 1198.3L940.5 1200.6L938.2 1202.9L935.9 1200.6Z" stroke="#666" stroke-width="0.9" fill="none" stroke-linejoin="round" />
<circle cx="938.2" cy="1200.6" r="1.26" stroke="#999" stroke-width="0.6" fill="none"/>
<rect x="838.8" y="1058.7" width="83.1" height="63.2" rx="6" stroke="#777" stroke-width="1.1" fill="none"/>
<rect x="840.1" y="1060" width="80.5" height="60.6" rx="5" stroke="#bbb" stroke-width="0.6" fill="none"/>
<rect x="844" y="1073.7" width="72.8" height="35.3" rx="2" stroke="#3c3c3c" stroke-width="1.1" fill="none"/>
<path d="M850.52 1059.5L850.52 1072.2" stroke="#8a8a8a" stroke-width="0.9" />
<path d="M853.12 1059.2L853.12 1073.7" stroke="#3c3c3c" stroke-width="1.1" />
<path d="M850.52 1063.85L848.72 1065.45L850.52 1067.05Z" stroke="#666" stroke-width="0.5" fill="#777" />
<path d="M863.48 1059.5L863.48 1072.2" stroke="#8a8a8a" stroke-width="0.9" />
<path d="M860.88 1059.2L860.88 1073.7" stroke="#3c3c3c" stroke-width="1.1" />
<path d="M863.48 1063.85L865.28 1065.45L863.48 1067.05Z" stroke="#666" stroke-width="0.5" fill="#777" />
<path d="M896.52 1059.5L896.52 1072.2" stroke="#8a8a8a" stroke-width="0.9" />
<path d="M899.12 1059.2L899.12 1073.7" stroke="#3c3c3c" stroke-width="1.1" />
<path d="M896.52 1063.85L894.72 1065.45L896.52 1067.05Z" stroke="#666" stroke-width="0.5" fill="#777" />
<path d="M909.48 1059.5L909.48 1072.2" stroke="#8a8a8a" stroke-width="0.9" />
<path d="M906.88 1059.2L906.88 1073.7" stroke="#3c3c3c" stroke-width="1.1" />
<path d="M909.48 1063.85L911.28 1065.45L909.48 1067.05Z" stroke="#666" stroke-width="0.5" fill="#777" />
<circle cx="850.5" cy="1116" r="4.3" stroke="#5a5a5a" stroke-width="0.9" fill="none"/>
<path d="M847.46 1112.96L853.54 1119.04" stroke="#5a5a5a" stroke-width="0.9" />
<path d="M846.78 1114.12L852.38 1119.72" stroke="#8a8a8a" stroke-width="0.7" />
<circle cx="910.8" cy="1116" r="4.3" stroke="#5a5a5a" stroke-width="0.9" fill="none"/>
<path d="M907.76 1112.96L913.84 1119.04" stroke="#5a5a5a" stroke-width="0.9" />
<path d="M907.08 1114.12L912.68 1119.72" stroke="#8a8a8a" stroke-width="0.7" />
<rect x="856.9" y="1109" width="18.6" height="14.9" rx="0" stroke="none" stroke-width="0" fill="#fff"/>
<path d="M856.9 1109L856.9 1122.9" stroke="#5a5a5a" stroke-width="1.0" />
<path d="M875.5 1109L875.5 1122.9" stroke="#5a5a5a" stroke-width="1.0" />
<path d="M856.3 1119.43L876.1 1119.43L876.1 1122.7Q876.1 1123.9 874.7 1123.9L857.7 1123.9Q856.3 1123.9 856.3 1122.7Z" stroke="#555" stroke-width="0.6" fill="#606060" />
<path d="M859.32 1117.34L865.08 1117.34" stroke="#555" stroke-width="1.8" />
<path d="M867.32 1117.34L873.08 1117.34" stroke="#555" stroke-width="1.8" />
<rect x="885.8" y="1109" width="18.6" height="14.9" rx="0" stroke="none" stroke-width="0" fill="#fff"/>
<path d="M885.8 1109L885.8 1122.9" stroke="#5a5a5a" stroke-width="1.0" />
<path d="M904.4 1109L904.4 1122.9" stroke="#5a5a5a" stroke-width="1.0" />
<path d="M885.2 1119.43L905 1119.43L905 1122.7Q905 1123.9 903.6 1123.9L886.6 1123.9Q885.2 1123.9 885.2 1122.7Z" stroke="#555" stroke-width="0.6" fill="#606060" />
<path d="M888.22 1117.34L893.98 1117.34" stroke="#555" stroke-width="1.8" />
<path d="M896.22 1117.34L901.98 1117.34" stroke="#555" stroke-width="1.8" />
<path d="M846 1109L914.8 1109" stroke="#3c3c3c" stroke-width="1.1" />
<rect x="847.9" y="1173" width="58" height="29.5" rx="1.5" stroke="#555" stroke-width="1.0" fill="none"/>
<rect x="836.3" y="1207.72" width="30.4" height="4.16" rx="1.5" stroke="#555" stroke-width="0.9" fill="none"/>
<path d="M845.85 1207.72L845.85 1211.88" stroke="#555" stroke-width="0.9" />
<path d="M857.15 1207.72L857.15 1211.88" stroke="#555" stroke-width="0.9" />
<path d="M838.3 1211.88L838.3 1215.63" stroke="#555" stroke-width="0.9" />
<path d="M864.7 1211.88L864.7 1215.63" stroke="#555" stroke-width="0.9" />
<path d="M838.3 1213.55L864.7 1213.55" stroke="#999" stroke-width="0.7" />
<rect x="835.8" y="1215.63" width="31.4" height="10.82" rx="2" stroke="#555" stroke-width="1" fill="none"/>
<path d="M843.34 1215.93L843.34 1226.14" stroke="#555" stroke-width="0.9" />
<path d="M845.85 1215.93L845.85 1226.14" stroke="#777" stroke-width="1.6" />
<path d="M851.5 1215.93L851.5 1226.14" stroke="#555" stroke-width="0.9" />
<path d="M857.15 1215.93L857.15 1226.14" stroke="#777" stroke-width="1.6" />
<path d="M859.66 1215.93L859.66 1226.14" stroke="#555" stroke-width="0.9" />
<path d="M837.6 1226.44L837.6 1228Q837.6 1233.1 842.3 1233.1L860.7 1233.1Q865.4 1233.1 865.4 1228L865.4 1226.44" stroke="#555" stroke-width="1" fill="none" />
<rect x="894.6" y="1207.72" width="30.4" height="4.16" rx="1.5" stroke="#555" stroke-width="0.9" fill="none"/>
<path d="M904.15 1207.72L904.15 1211.88" stroke="#555" stroke-width="0.9" />
<path d="M915.45 1207.72L915.45 1211.88" stroke="#555" stroke-width="0.9" />
<path d="M896.6 1211.88L896.6 1215.63" stroke="#555" stroke-width="0.9" />
<path d="M923 1211.88L923 1215.63" stroke="#555" stroke-width="0.9" />
<path d="M896.6 1213.55L923 1213.55" stroke="#999" stroke-width="0.7" />
<rect x="894.1" y="1215.63" width="31.4" height="10.82" rx="2" stroke="#555" stroke-width="1" fill="none"/>
<path d="M901.64 1215.93L901.64 1226.14" stroke="#555" stroke-width="0.9" />
<path d="M904.15 1215.93L904.15 1226.14" stroke="#777" stroke-width="1.6" />
<path d="M909.8 1215.93L909.8 1226.14" stroke="#555" stroke-width="0.9" />
<path d="M915.45 1215.93L915.45 1226.14" stroke="#777" stroke-width="1.6" />
<path d="M917.96 1215.93L917.96 1226.14" stroke="#555" stroke-width="0.9" />
<path d="M895.9 1226.44L895.9 1228Q895.9 1233.1 900.6 1233.1L919 1233.1Q923.7 1233.1 923.7 1228L923.7 1226.44" stroke="#555" stroke-width="1" fill="none" />
<path d="M1087.1 1014.8L1005.2 1014.8Q1003.2 1014.8 1003.2 1016.8L1003.2 1205.1Q1003.2 1207.1 1005.2 1207.1L1087.1 1207.1" stroke="#555" stroke-width="1.1" fill="none" />
<path d="M1087.1 1014.8L1087.1 1207.1" stroke="#555" stroke-width="1.1" />
<path d="M1087.1 1014.8L1098.3 1014.8Q1101.3 1014.8 1101.3 1017.8L1101.3 1204.1Q1101.3 1207.1 1098.3 1207.1L1087.1 1207.1" stroke="#555" stroke-width="1.1" fill="none" />
<path d="M1001.7 1017.8L1001.7 1033.8" stroke="#666" stroke-width="0.9" />
<path d="M1001.7 1188.1L1001.7 1198.1" stroke="#666" stroke-width="0.9" />
<path d="M1101.3 1058.2L1112.86 1058.2" stroke="#444" stroke-width="1.0" />
<path d="M1105.22 1058.7L1105.22 1122.4" stroke="#7a7a7a" stroke-width="1.2" />
<path d="M1101.3 1122.6L1107.83 1122.6" stroke="#555" stroke-width="1.0" />
<path d="M1105.82 1058.7L1111.15 1061.3" stroke="#555" stroke-width="0.9" />
<circle cx="1113.16" cy="1062.1" r="2.2" stroke="#444" stroke-width="1.2" fill="none"/>
<path d="M1110.75 1063.3L1110.75 1118.7" stroke="#444" stroke-width="1.0" />
<path d="M1113.86 1064.3L1113.86 1118.7" stroke="#888" stroke-width="1.1" />
<path d="M1110.75 1118.7L1109.94 1122.4L1108.74 1125.1L1113.96 1125.7L1114.77 1121.9L1113.86 1118.7Z" stroke="#888" stroke-width="0.8" fill="#ccc" stroke-linejoin="round" />
<path d="M1111.95 1119.4L1111.55 1125.1" stroke="#666" stroke-width="0.8" />
<rect x="1113.86" y="1106.6" width="3.52" height="4.8" rx="0.3" stroke="#777" stroke-width="0.8" fill="none"/>
<rect x="1117.38" y="1104.4" width="3.62" height="9.2" rx="1.2" stroke="#333" stroke-width="0.5" fill="#444"/>
<path d="M1003.2 991.6L1003.2 1014.8" stroke="#666" stroke-width="1.0" />
<path d="M1101.3 991.6L1101.3 1014.8" stroke="#666" stroke-width="1.0" />
<path d="M1003.2 995.5L1101.3 995.5" stroke="#3c3c3c" stroke-width="1.0" />
<path d="M1003.2 995.5L1013.2 993.8L1013.2 997.2Z" fill="#333" stroke="none"/>
<path d="M1101.3 995.5L1091.3 997.2L1091.3 993.8Z" fill="#333" stroke="none"/>
<text x="1052.3" y="992.3" font-size="15" text-anchor="middle" fill="#333">155</text>
<rect x="1030.6" y="1207.72" width="30.4" height="4.16" rx="1.5" stroke="#555" stroke-width="0.9" fill="none"/>
<path d="M1040.15 1207.72L1040.15 1211.88" stroke="#555" stroke-width="0.9" />
<path d="M1051.45 1207.72L1051.45 1211.88" stroke="#555" stroke-width="0.9" />
<path d="M1032.6 1211.88L1032.6 1215.63" stroke="#555" stroke-width="0.9" />
<path d="M1059 1211.88L1059 1215.63" stroke="#555" stroke-width="0.9" />
<path d="M1032.6 1213.55L1059 1213.55" stroke="#999" stroke-width="0.7" />
<rect x="1030.1" y="1215.63" width="31.4" height="10.82" rx="2" stroke="#555" stroke-width="1" fill="none"/>
<path d="M1037.64 1215.93L1037.64 1226.14" stroke="#555" stroke-width="0.9" />
<path d="M1040.15 1215.93L1040.15 1226.14" stroke="#777" stroke-width="1.6" />
<path d="M1045.8 1215.93L1045.8 1226.14" stroke="#555" stroke-width="0.9" />
<path d="M1051.45 1215.93L1051.45 1226.14" stroke="#777" stroke-width="1.6" />
<path d="M1053.96 1215.93L1053.96 1226.14" stroke="#555" stroke-width="0.9" />
<path d="M1031.9 1226.44L1031.9 1228Q1031.9 1233.1 1036.6 1233.1L1055 1233.1Q1059.7 1233.1 1059.7 1228L1059.7 1226.44" stroke="#555" stroke-width="1" fill="none" />
<text x="841.5" y="1290" font-size="25" text-anchor="start" fill="#2a2a2a" textLength="208.5" lengthAdjust="spacingAndGlyphs">FDZ52-G-10-100A</text>
<path d="M1229.6 931.3L1229.6 987" stroke="#666" stroke-width="1.0" />
<path d="M1400 931.3L1400 987" stroke="#666" stroke-width="1.0" />
<path d="M1229.6 937.5L1400 937.5" stroke="#3c3c3c" stroke-width="1.0" />
<path d="M1229.6 937.5L1239.6 935.8L1239.6 939.2Z" fill="#333" stroke="none"/>
<path d="M1400 937.5L1390 939.2L1390 935.8Z" fill="#333" stroke="none"/>
<text x="1315.8" y="934.6" font-size="15" text-anchor="middle" fill="#333">264.5</text>
<path d="M1235.1 953L1235.1 973.4" stroke="#666" stroke-width="1.0" />
<path d="M1395.1 953L1395.1 973.4" stroke="#666" stroke-width="1.0" />
<path d="M1235.1 956.5L1395.1 956.5" stroke="#3c3c3c" stroke-width="1.0" />
<path d="M1235.1 956.5L1245.1 954.8L1245.1 958.2Z" fill="#333" stroke="none"/>
<path d="M1395.1 956.5L1385.1 958.2L1385.1 954.8Z" fill="#333" stroke="none"/>
<text x="1315.8" y="953.6" font-size="15" text-anchor="middle" fill="#333">250</text>
<path d="M1178.5 973.4L1260 973.4" stroke="#444" stroke-width="1.0" />
<path d="M1178.5 1204.3L1235.1 1204.3" stroke="#555" stroke-width="1.0" />
<path d="M1182.6 973.4L1182.6 1204.3" stroke="#3c3c3c" stroke-width="1.0" />
<path d="M1182.6 973.4L1184.3 983.4L1180.9 983.4Z" fill="#333" stroke="none"/>
<path d="M1182.6 1204.3L1180.9 1194.3L1184.3 1194.3Z" fill="#333" stroke="none"/>
<text x="1179.8" y="1088.3" font-size="15" text-anchor="middle" fill="#333" transform="rotate(-90 1179.8 1088.3)">360</text>
<path d="M1207 988.3L1227.5 988.3" stroke="#666" stroke-width="1.0" />
<path d="M1207 1188.9L1227.5 1188.9" stroke="#666" stroke-width="1.0" />
<path d="M1211.1 988.3L1211.1 1188.9" stroke="#3c3c3c" stroke-width="1.0" />
<path d="M1211.1 988.3L1212.8 998.3L1209.4 998.3Z" fill="#333" stroke="none"/>
<path d="M1211.1 1188.9L1209.4 1178.9L1212.8 1178.9Z" fill="#333" stroke="none"/>
<text x="1208.4" y="1088.3" font-size="15" text-anchor="middle" fill="#333" transform="rotate(-90 1208.4 1088.3)">312</text>
<rect x="1235.1" y="973.4" width="160" height="230.9" rx="0" stroke="#5a5a5a" stroke-width="1.1" fill="none"/>
<path d="M1233.4 973.4L1233.4 1204.3" stroke="#999" stroke-width="0.9" />
<rect x="1225.3" y="983.7" width="9.8" height="10.6" rx="0.5" stroke="#888" stroke-width="1.0" fill="none"/>
<path d="M1226.9 993.3L1226.9 985.3L1235.1 985.3" stroke="#444" stroke-width="1.0" fill="none" stroke-linejoin="round" />
<path d="M1229.6 986.2L1231.7 988.3L1229.6 990.4L1227.5 988.3Z" stroke="#555" stroke-width="0.9" fill="none" stroke-linejoin="round" />
<circle cx="1229.6" cy="988.3" r="1.16" stroke="#999" stroke-width="0.6" fill="none"/>
<rect x="1225.3" y="1184" width="9.8" height="10.3" rx="0.5" stroke="#888" stroke-width="1.0" fill="none"/>
<path d="M1226.9 1193.3L1226.9 1185.6L1235.1 1185.6" stroke="#444" stroke-width="1.0" fill="none" stroke-linejoin="round" />
<path d="M1229.6 1186.8L1231.7 1188.9L1229.6 1191L1227.5 1188.9Z" stroke="#555" stroke-width="0.9" fill="none" stroke-linejoin="round" />
<circle cx="1229.6" cy="1188.9" r="1.16" stroke="#999" stroke-width="0.6" fill="none"/>
<rect x="1395.1" y="983.7" width="10.3" height="10.6" rx="0.5" stroke="#888" stroke-width="1.0" fill="none"/>
<path d="M1395.1 985.3L1403.8 985.3L1403.8 993.3" stroke="#777" stroke-width="0.9" fill="none" stroke-linejoin="round" />
<path d="M1395.1 994.3L1405.4 994.3" stroke="#555" stroke-width="1.0" />
<path d="M1400 986.2L1402.1 988.3L1400 990.4L1397.9 988.3Z" stroke="#555" stroke-width="0.9" fill="none" stroke-linejoin="round" />
<circle cx="1400" cy="988.3" r="1.16" stroke="#999" stroke-width="0.6" fill="none"/>
<rect x="1395.1" y="1184" width="10.3" height="10.3" rx="0.5" stroke="#888" stroke-width="1.0" fill="none"/>
<path d="M1395.1 1185.6L1403.8 1185.6L1403.8 1193.3" stroke="#777" stroke-width="0.9" fill="none" stroke-linejoin="round" />
<path d="M1395.1 1194.3L1405.4 1194.3" stroke="#555" stroke-width="1.0" />
<path d="M1400 1186.8L1402.1 1188.9L1400 1191L1397.9 1188.9Z" stroke="#555" stroke-width="0.9" fill="none" stroke-linejoin="round" />
<circle cx="1400" cy="1188.9" r="1.16" stroke="#999" stroke-width="0.6" fill="none"/>
<path d="M1241.6 977.3L1243.9 979.6L1241.6 981.9L1239.3 979.6Z" stroke="#666" stroke-width="0.9" fill="none" stroke-linejoin="round" />
<circle cx="1241.6" cy="979.6" r="1.26" stroke="#999" stroke-width="0.6" fill="none"/>
<path d="M1388.6 977.3L1390.9 979.6L1388.6 981.9L1386.3 979.6Z" stroke="#666" stroke-width="0.9" fill="none" stroke-linejoin="round" />
<circle cx="1388.6" cy="979.6" r="1.26" stroke="#999" stroke-width="0.6" fill="none"/>
<path d="M1241.6 1195.8L1243.9 1198.1L1241.6 1200.4L1239.3 1198.1Z" stroke="#666" stroke-width="0.9" fill="none" stroke-linejoin="round" />
<circle cx="1241.6" cy="1198.1" r="1.26" stroke="#999" stroke-width="0.6" fill="none"/>
<path d="M1388.6 1195.8L1390.9 1198.1L1388.6 1200.4L1386.3 1198.1Z" stroke="#666" stroke-width="0.9" fill="none" stroke-linejoin="round" />
<circle cx="1388.6" cy="1198.1" r="1.26" stroke="#999" stroke-width="0.6" fill="none"/>
<rect x="1239.7" y="1048.1" width="150.8" height="61.7" rx="7" stroke="#6a6a6a" stroke-width="1.4" fill="none"/>
<path d="M1312.17 1055.91L1247.54 1055.91Q1242.54 1055.91 1242.54 1060.91L1242.54 1103.72Q1242.54 1108.72 1247.54 1108.72L1382.66 1108.72Q1387.66 1108.72 1387.66 1103.72L1387.66 1060.91Q1387.66 1055.91 1382.66 1055.91L1318.03 1055.91" stroke="#6a6a6a" stroke-width="1.3" fill="none" />
<path d="M1312.17 1055.91L1312.17 1058.43L1252.14 1058.43Q1244.14 1058.43 1244.14 1065.43L1244.14 1102.12Q1244.14 1107.12 1249.14 1107.12" stroke="#888" stroke-width="0.9" fill="none" />
<path d="M1318.03 1055.91L1318.03 1058.43L1378.06 1058.43Q1386.06 1058.43 1386.06 1065.43L1386.06 1102.12Q1386.06 1107.12 1381.06 1107.12" stroke="#888" stroke-width="0.9" fill="none" />
<path d="M1310.48 1048.1L1310.48 1055.91" stroke="#666" stroke-width="0.9" />
<path d="M1319.72 1048.1L1319.72 1055.91" stroke="#666" stroke-width="0.9" />
<path d="M1312.17 1050.35L1318.03 1050.35" stroke="#8a8a8a" stroke-width="0.8" />
<path d="M1253.56 1048.6L1253.56 1060.22" stroke="#666" stroke-width="1.0" />
<path d="M1259.61 1048.6L1259.61 1060.22" stroke="#666" stroke-width="1.0" />
<path d="M1251.07 1049.6L1251.07 1053.49" stroke="#8a8a8a" stroke-width="0.8" />
<path d="M1262.09 1049.6L1262.09 1053.49" stroke="#8a8a8a" stroke-width="0.8" />
<path d="M1253.38 1060.22L1255.25 1060.22" stroke="#666" stroke-width="0.9" />
<path d="M1259.78 1060.22L1257.92 1060.22" stroke="#666" stroke-width="0.9" />
<path d="M1368.55 1048.6L1368.55 1060.22" stroke="#666" stroke-width="1.0" />
<path d="M1374.59 1048.6L1374.59 1060.22" stroke="#666" stroke-width="1.0" />
<path d="M1366.06 1049.6L1366.06 1053.49" stroke="#8a8a8a" stroke-width="0.8" />
<path d="M1377.08 1049.6L1377.08 1053.49" stroke="#8a8a8a" stroke-width="0.8" />
<path d="M1368.37 1060.22L1370.24 1060.22" stroke="#666" stroke-width="0.9" />
<path d="M1374.77 1060.22L1372.91 1060.22" stroke="#666" stroke-width="0.9" />
<circle cx="1257.47" cy="1103.42" r="4.44" stroke="#777" stroke-width="0.9" fill="none"/>
<path d="M1253.03 1102.62L1261.92 1102.62" stroke="#888" stroke-width="0.7" />
<path d="M1253.03 1104.22L1261.92 1104.22" stroke="#888" stroke-width="0.7" />
<circle cx="1315.1" cy="1103.42" r="4.44" stroke="#777" stroke-width="0.9" fill="none"/>
<path d="M1310.66 1102.62L1319.54 1102.62" stroke="#888" stroke-width="0.7" />
<path d="M1310.66 1104.22L1319.54 1104.22" stroke="#888" stroke-width="0.7" />
<circle cx="1372.19" cy="1103.42" r="4.44" stroke="#777" stroke-width="0.9" fill="none"/>
<path d="M1367.75 1102.62L1376.64 1102.62" stroke="#888" stroke-width="0.7" />
<path d="M1367.75 1104.22L1376.64 1104.22" stroke="#888" stroke-width="0.7" />
<rect x="1264.58" y="1101.72" width="25.24" height="9.88" rx="1" stroke="#444" stroke-width="0.8" fill="#fff"/>
<rect x="1265.78" y="1105.58" width="22.84" height="6.02" rx="0.5" stroke="#222" stroke-width="0.5" fill="#222"/>
<rect x="1270.8" y="1102.88" width="12.8" height="2.69" rx="1.2" stroke="#555" stroke-width="0.8" fill="#fff"/>
<rect x="1339.14" y="1101.72" width="25.06" height="9.88" rx="1" stroke="#444" stroke-width="0.8" fill="#fff"/>
<rect x="1340.34" y="1105.58" width="22.66" height="6.02" rx="0.5" stroke="#222" stroke-width="0.5" fill="#222"/>
<rect x="1345.36" y="1102.88" width="12.62" height="2.69" rx="1.2" stroke="#555" stroke-width="0.8" fill="#fff"/>
<path d="M1289.82 1108.72L1339.14 1108.72" stroke="#444" stroke-width="1.5" />
<path d="M1250.36 1108.72L1265.47 1108.72" stroke="#333" stroke-width="1.4" />
<path d="M1364.73 1108.72L1379.84 1108.72" stroke="#333" stroke-width="1.4" />
<rect x="1285.9" y="1170.4" width="58.4" height="29.3" rx="1.5" stroke="#555" stroke-width="1.0" fill="none"/>
<rect x="1270.5" y="1204.92" width="29.2" height="4.16" rx="1.5" stroke="#555" stroke-width="0.9" fill="none"/>
<path d="M1279.66 1204.92L1279.66 1209.08" stroke="#555" stroke-width="0.9" />
<path d="M1290.54 1204.92L1290.54 1209.08" stroke="#555" stroke-width="0.9" />
<path d="M1272.5 1209.08L1272.5 1212.83" stroke="#555" stroke-width="0.9" />
<path d="M1297.7 1209.08L1297.7 1212.83" stroke="#555" stroke-width="0.9" />
<path d="M1272.5 1210.75L1297.7 1210.75" stroke="#999" stroke-width="0.7" />
<rect x="1270" y="1212.83" width="30.2" height="10.82" rx="2" stroke="#555" stroke-width="1" fill="none"/>
<path d="M1277.25 1213.13L1277.25 1223.34" stroke="#555" stroke-width="0.9" />
<path d="M1279.66 1213.13L1279.66 1223.34" stroke="#777" stroke-width="1.6" />
<path d="M1285.1 1213.13L1285.1 1223.34" stroke="#555" stroke-width="0.9" />
<path d="M1290.54 1213.13L1290.54 1223.34" stroke="#777" stroke-width="1.6" />
<path d="M1292.95 1213.13L1292.95 1223.34" stroke="#555" stroke-width="0.9" />
<path d="M1271.8 1223.64L1271.8 1225.2Q1271.8 1230.3 1276.5 1230.3L1293.7 1230.3Q1298.4 1230.3 1298.4 1225.2L1298.4 1223.64" stroke="#555" stroke-width="1" fill="none" />
<rect x="1328.9" y="1204.92" width="29.2" height="4.16" rx="1.5" stroke="#555" stroke-width="0.9" fill="none"/>
<path d="M1338.06 1204.92L1338.06 1209.08" stroke="#555" stroke-width="0.9" />
<path d="M1348.94 1204.92L1348.94 1209.08" stroke="#555" stroke-width="0.9" />
<path d="M1330.9 1209.08L1330.9 1212.83" stroke="#555" stroke-width="0.9" />
<path d="M1356.1 1209.08L1356.1 1212.83" stroke="#555" stroke-width="0.9" />
<path d="M1330.9 1210.75L1356.1 1210.75" stroke="#999" stroke-width="0.7" />
<rect x="1328.4" y="1212.83" width="30.2" height="10.82" rx="2" stroke="#555" stroke-width="1" fill="none"/>
<path d="M1335.65 1213.13L1335.65 1223.34" stroke="#555" stroke-width="0.9" />
<path d="M1338.06 1213.13L1338.06 1223.34" stroke="#777" stroke-width="1.6" />
<path d="M1343.5 1213.13L1343.5 1223.34" stroke="#555" stroke-width="0.9" />
<path d="M1348.94 1213.13L1348.94 1223.34" stroke="#777" stroke-width="1.6" />
<path d="M1351.35 1213.13L1351.35 1223.34" stroke="#555" stroke-width="0.9" />
<path d="M1330.2 1223.64L1330.2 1225.2Q1330.2 1230.3 1334.9 1230.3L1352.1 1230.3Q1356.8 1230.3 1356.8 1225.2L1356.8 1223.64" stroke="#555" stroke-width="1" fill="none" />
<path d="M1499.2 973.4L1453.1 973.4Q1451.1 973.4 1451.1 975.4L1451.1 1202.3Q1451.1 1204.3 1453.1 1204.3L1499.2 1204.3" stroke="#555" stroke-width="1.1" fill="none" />
<path d="M1499.2 973.4L1499.2 1204.3" stroke="#555" stroke-width="1.1" />
<path d="M1499.2 973.4L1511.1 973.4Q1514.1 973.4 1514.1 976.4L1514.1 1201.3Q1514.1 1204.3 1511.1 1204.3L1499.2 1204.3" stroke="#555" stroke-width="1.1" fill="none" />
<path d="M1449.6 976.4L1449.6 992.4" stroke="#666" stroke-width="0.9" />
<path d="M1449.6 1185.3L1449.6 1195.3" stroke="#666" stroke-width="0.9" />
<path d="M1514.1 1034.5L1525.78 1034.5" stroke="#444" stroke-width="1.0" />
<path d="M1518.06 1035L1518.06 1100.2" stroke="#7a7a7a" stroke-width="1.2" />
<path d="M1514.1 1100.4L1520.7 1100.4" stroke="#555" stroke-width="1.0" />
<path d="M1518.67 1035L1524.05 1037.6" stroke="#555" stroke-width="0.9" />
<circle cx="1526.08" cy="1038.4" r="2.2" stroke="#444" stroke-width="1.2" fill="none"/>
<path d="M1523.64 1039.6L1523.64 1096.5" stroke="#444" stroke-width="1.0" />
<path d="M1526.79 1040.6L1526.79 1096.5" stroke="#888" stroke-width="1.1" />
<path d="M1523.64 1096.5L1522.83 1100.2L1521.61 1102.9L1526.89 1103.5L1527.71 1099.7L1526.79 1096.5Z" stroke="#888" stroke-width="0.8" fill="#ccc" stroke-linejoin="round" />
<path d="M1524.86 1097.2L1524.46 1102.9" stroke="#666" stroke-width="0.8" />
<rect x="1526.79" y="1083.7" width="3.55" height="4.8" rx="0.3" stroke="#777" stroke-width="0.8" fill="none"/>
<rect x="1530.34" y="1081.5" width="3.66" height="9.2" rx="1.2" stroke="#333" stroke-width="0.5" fill="#444"/>
<path d="M1451.1 950.3L1451.1 973.4" stroke="#666" stroke-width="1.0" />
<path d="M1515 950.3L1515 973.4" stroke="#666" stroke-width="1.0" />
<path d="M1451.1 954.3L1515 954.3" stroke="#3c3c3c" stroke-width="1.0" />
<path d="M1451.1 954.3L1461.1 952.6L1461.1 956Z" fill="#333" stroke="none"/>
<path d="M1515 954.3L1505 956L1505 952.6Z" fill="#333" stroke="none"/>
<text x="1483.7" y="951.8" font-size="15" text-anchor="middle" fill="#333">100</text>
<rect x="1461.5" y="1204.92" width="29.2" height="4.16" rx="1.5" stroke="#555" stroke-width="0.9" fill="none"/>
<path d="M1470.66 1204.92L1470.66 1209.08" stroke="#555" stroke-width="0.9" />
<path d="M1481.54 1204.92L1481.54 1209.08" stroke="#555" stroke-width="0.9" />
<path d="M1463.5 1209.08L1463.5 1212.83" stroke="#555" stroke-width="0.9" />
<path d="M1488.7 1209.08L1488.7 1212.83" stroke="#555" stroke-width="0.9" />
<path d="M1463.5 1210.75L1488.7 1210.75" stroke="#999" stroke-width="0.7" />
<rect x="1461" y="1212.83" width="30.2" height="10.82" rx="2" stroke="#555" stroke-width="1" fill="none"/>
<path d="M1468.25 1213.13L1468.25 1223.34" stroke="#555" stroke-width="0.9" />
<path d="M1470.66 1213.13L1470.66 1223.34" stroke="#777" stroke-width="1.6" />
<path d="M1476.1 1213.13L1476.1 1223.34" stroke="#555" stroke-width="0.9" />
<path d="M1481.54 1213.13L1481.54 1223.34" stroke="#777" stroke-width="1.6" />
<path d="M1483.95 1213.13L1483.95 1223.34" stroke="#555" stroke-width="0.9" />
<path d="M1462.8 1223.64L1462.8 1225.2Q1462.8 1230.3 1467.5 1230.3L1484.7 1230.3Q1489.4 1230.3 1489.4 1225.2L1489.4 1223.64" stroke="#555" stroke-width="1" fill="none" />
<path d="M1501.4 973.4L1501.4 1204.3" stroke="#888" stroke-width="0.8" />
<text x="1261" y="1290" font-size="25" text-anchor="start" fill="#2a2a2a" textLength="222" lengthAdjust="spacingAndGlyphs">FDZ52-G-100-250A</text>
</svg></body></html>
